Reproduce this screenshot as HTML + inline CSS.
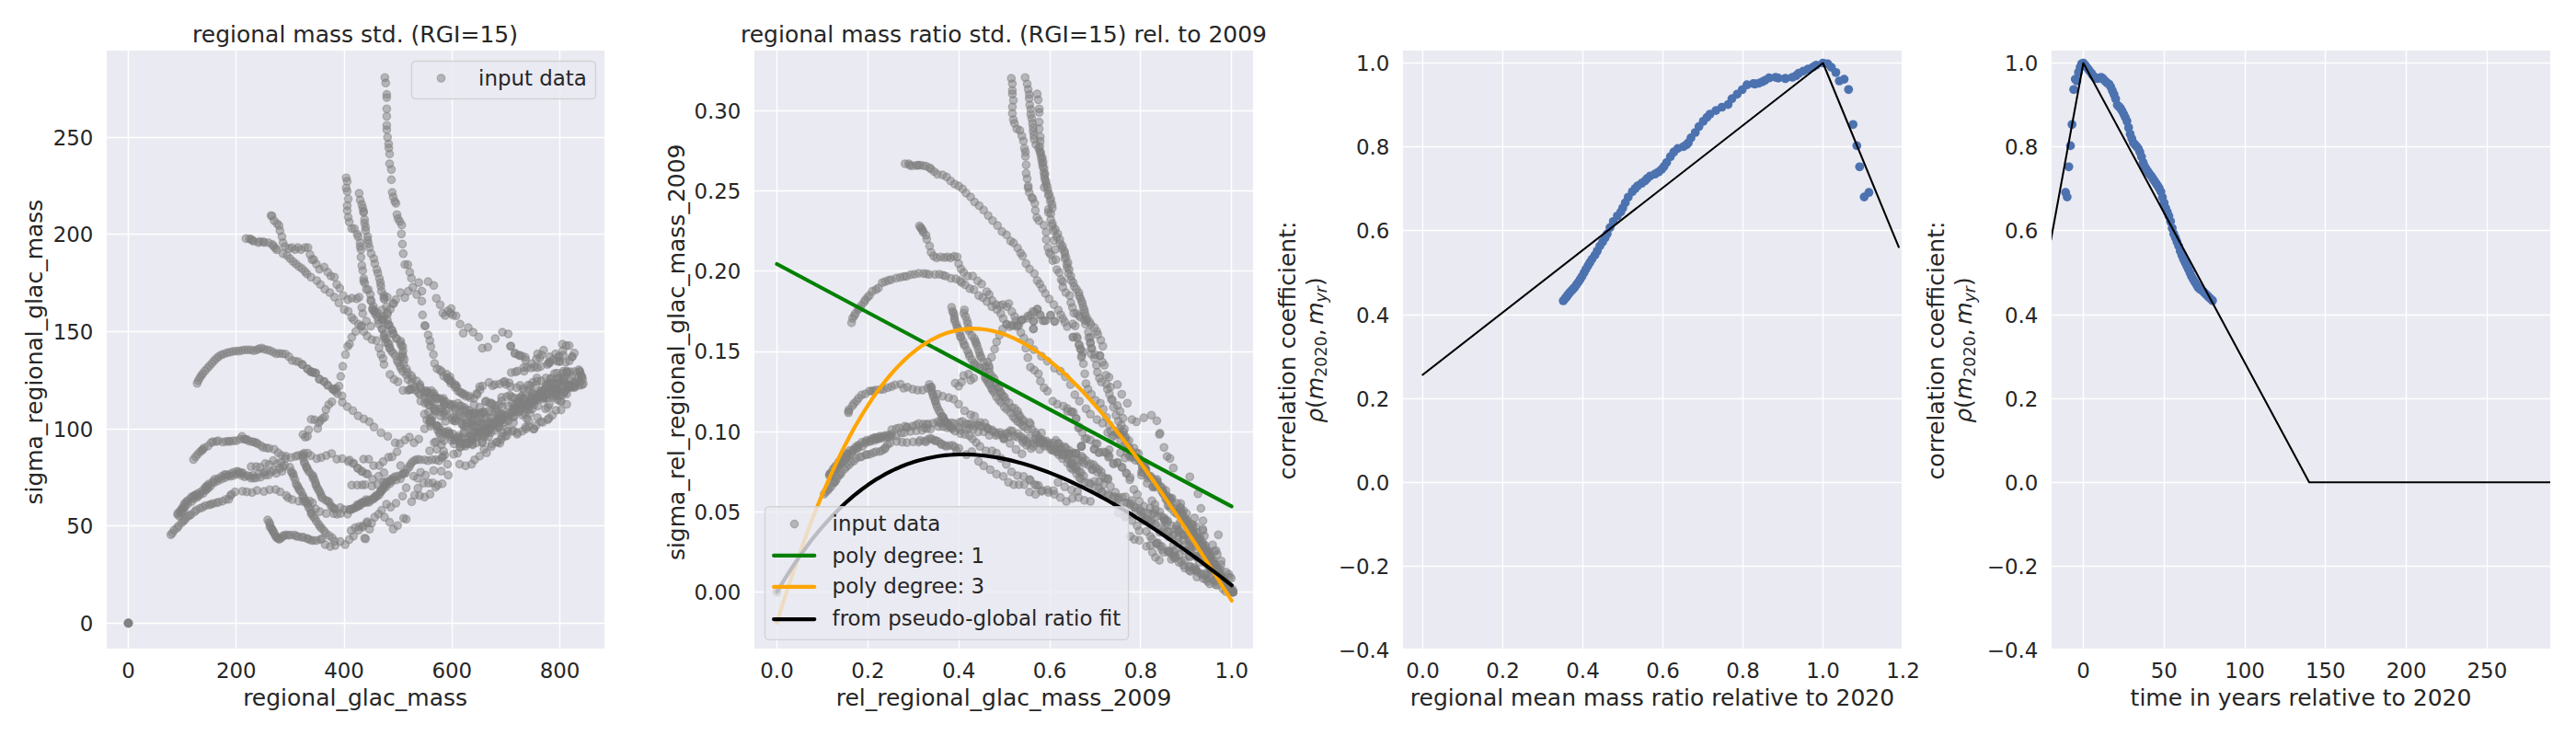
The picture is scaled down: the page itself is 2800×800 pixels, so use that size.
<!DOCTYPE html>
<html lang="en"><head><meta charset="utf-8"><title>regional mass std</title><style>html,body{margin:0;padding:0;background:#fff}body{width:2800px;height:800px;overflow:hidden}svg{display:block}</style></head><body>
<svg width="2800" height="800" viewBox="0 0 2800 800" font-family="'DejaVu Sans', 'Liberation Sans', sans-serif" fill="#262626">
<rect width="2800" height="800" fill="#fff"/>
<defs>
<clipPath id="c1"><rect x="116" y="55" width="541" height="650"/></clipPath>
<clipPath id="c2"><rect x="820" y="55" width="542" height="650"/></clipPath>
<clipPath id="c3"><rect x="1525" y="55" width="542" height="650"/></clipPath>
<clipPath id="c4"><rect x="2230" y="55" width="542" height="650"/></clipPath>
</defs>
<rect x="116" y="55" width="541" height="650" fill="#eaeaf2"/>
<path d="M139.5 55V705M256.5 55V705M374.5 55V705M491.5 55V705M608.5 55V705M116 677.5H657M116 571.5H657M116 466.5H657M116 360.5H657M116 254.5H657M116 149.5H657" stroke="#fff" stroke-width="1.39" fill="none"/>
<rect x="820" y="55" width="542" height="650" fill="#eaeaf2"/>
<path d="M844.5 55V705M943.5 55V705M1042.5 55V705M1141.5 55V705M1239.5 55V705M1338.5 55V705M820 643.5H1362M820 556.5H1362M820 469.5H1362M820 382.5H1362M820 294.5H1362M820 207.5H1362M820 120.5H1362" stroke="#fff" stroke-width="1.39" fill="none"/>
<rect x="1525" y="55" width="542" height="650" fill="#eaeaf2"/>
<path d="M1546.5 55V705M1633.5 55V705M1720.5 55V705M1807.5 55V705M1894.5 55V705M1981.5 55V705M1525 615.5H2067M1525 524.5H2067M1525 433.5H2067M1525 342.5H2067M1525 250.5H2067M1525 159.5H2067M1525 68.5H2067" stroke="#fff" stroke-width="1.39" fill="none"/>
<rect x="2230" y="55" width="542" height="650" fill="#eaeaf2"/>
<path d="M2264.5 55V705M2352.5 55V705M2440.5 55V705M2527.5 55V705M2615.5 55V705M2703.5 55V705M2230 615.5H2772M2230 524.5H2772M2230 433.5H2772M2230 342.5H2772M2230 250.5H2772M2230 159.5H2772M2230 68.5H2772" stroke="#fff" stroke-width="1.39" fill="none"/>
<g clip-path="url(#c1)" fill="#808080" fill-opacity="0.5" stroke="#808080" stroke-opacity="0.5" stroke-width="1.39"><circle cx="139.5" cy="677.4" r="4.17"/><circle cx="139.5" cy="677.4" r="4.17"/><circle cx="139.5" cy="677.4" r="4.17"/><circle cx="139.5" cy="677.4" r="4.17"/><circle cx="139.5" cy="677.4" r="4.17"/><circle cx="418.3" cy="84.3" r="4.17"/><circle cx="419.3" cy="90.2" r="4.17"/><circle cx="420.4" cy="102.6" r="4.17"/><circle cx="420.4" cy="106.1" r="4.17"/><circle cx="420.4" cy="118.3" r="4.17"/><circle cx="420.4" cy="126.5" r="4.17"/><circle cx="420.4" cy="136.3" r="4.17"/><circle cx="420.4" cy="141.1" r="4.17"/><circle cx="421.3" cy="149.3" r="4.17"/><circle cx="422.4" cy="156.5" r="4.17"/><circle cx="422.6" cy="160.9" r="4.17"/><circle cx="423.5" cy="167.4" r="4.17"/><circle cx="423.5" cy="178.0" r="4.17"/><circle cx="425.4" cy="184.3" r="4.17"/><circle cx="425.4" cy="195.4" r="4.17"/><circle cx="426.3" cy="209.1" r="4.17"/><circle cx="427.4" cy="214.1" r="4.17"/><circle cx="429.1" cy="218.9" r="4.17"/><circle cx="430.4" cy="221.1" r="4.17"/><circle cx="431.5" cy="233.3" r="4.17"/><circle cx="432.6" cy="237.6" r="4.17"/><circle cx="434.6" cy="240.9" r="4.17"/><circle cx="436.7" cy="244.6" r="4.17"/><circle cx="436.3" cy="254.3" r="4.17"/><circle cx="437.4" cy="265.4" r="4.17"/><circle cx="438.3" cy="275.7" r="4.17"/><circle cx="440.0" cy="287.6" r="4.17"/><circle cx="443.3" cy="287.6" r="4.17"/><circle cx="445.4" cy="295.9" r="4.17"/><circle cx="447.2" cy="302.4" r="4.17"/><circle cx="448.7" cy="312.2" r="4.17"/><circle cx="453.0" cy="320.2" r="4.17"/><circle cx="458.5" cy="327.4" r="4.17"/><circle cx="459.3" cy="342.4" r="4.17"/><circle cx="461.7" cy="353.9" r="4.17"/><circle cx="462.2" cy="354.3" r="4.17"/><circle cx="465.4" cy="364.1" r="4.17"/><circle cx="467.2" cy="370.2" r="4.17"/><circle cx="468.3" cy="376.7" r="4.17"/><circle cx="471.1" cy="385.4" r="4.17"/><circle cx="472.4" cy="395.0" r="4.17"/><circle cx="475.0" cy="400.9" r="4.17"/><circle cx="478.3" cy="402.2" r="4.17"/><circle cx="482.2" cy="408.7" r="4.17"/><circle cx="485.9" cy="411.3" r="4.17"/><circle cx="489.1" cy="409.6" r="4.17"/><circle cx="491.3" cy="415.0" r="4.17"/><circle cx="495.7" cy="418.9" r="4.17"/><circle cx="496.7" cy="421.1" r="4.17"/><circle cx="500.4" cy="426.5" r="4.17"/><circle cx="503.3" cy="428.7" r="4.17"/><circle cx="506.5" cy="430.9" r="4.17"/><circle cx="510.9" cy="432.4" r="4.17"/><circle cx="515.2" cy="433.0" r="4.17"/><circle cx="376.3" cy="193.3" r="4.17"/><circle cx="377.4" cy="197.2" r="4.17"/><circle cx="376.3" cy="204.3" r="4.17"/><circle cx="377.4" cy="208.0" r="4.17"/><circle cx="378.5" cy="216.3" r="4.17"/><circle cx="377.4" cy="223.5" r="4.17"/><circle cx="377.4" cy="229.1" r="4.17"/><circle cx="378.5" cy="236.1" r="4.17"/><circle cx="379.6" cy="241.3" r="4.17"/><circle cx="382.4" cy="248.5" r="4.17"/><circle cx="385.2" cy="248.5" r="4.17"/><circle cx="388.3" cy="254.6" r="4.17"/><circle cx="389.3" cy="257.2" r="4.17"/><circle cx="391.5" cy="263.7" r="4.17"/><circle cx="391.5" cy="268.0" r="4.17"/><circle cx="392.4" cy="271.3" r="4.17"/><circle cx="392.4" cy="279.6" r="4.17"/><circle cx="393.3" cy="288.7" r="4.17"/><circle cx="394.3" cy="294.1" r="4.17"/><circle cx="395.4" cy="302.8" r="4.17"/><circle cx="395.4" cy="305.7" r="4.17"/><circle cx="396.5" cy="307.8" r="4.17"/><circle cx="398.3" cy="314.8" r="4.17"/><circle cx="400.4" cy="314.8" r="4.17"/><circle cx="402.6" cy="320.2" r="4.17"/><circle cx="403.5" cy="327.4" r="4.17"/><circle cx="404.8" cy="335.5" r="4.17"/><circle cx="407.0" cy="337.7" r="4.17"/><circle cx="408.0" cy="341.5" r="4.17"/><circle cx="415.1" cy="346.4" r="4.17"/><circle cx="415.1" cy="357.3" r="4.17"/><circle cx="417.3" cy="365.4" r="4.17"/><circle cx="418.9" cy="372.5" r="4.17"/><circle cx="423.3" cy="378.5" r="4.17"/><circle cx="427.6" cy="383.9" r="4.17"/><circle cx="435.2" cy="388.3" r="4.17"/><circle cx="390.4" cy="210.2" r="4.17"/><circle cx="391.5" cy="217.4" r="4.17"/><circle cx="393.3" cy="222.2" r="4.17"/><circle cx="394.3" cy="226.1" r="4.17"/><circle cx="395.2" cy="229.8" r="4.17"/><circle cx="395.2" cy="231.1" r="4.17"/><circle cx="396.3" cy="238.7" r="4.17"/><circle cx="396.3" cy="242.6" r="4.17"/><circle cx="397.4" cy="247.0" r="4.17"/><circle cx="397.4" cy="250.7" r="4.17"/><circle cx="399.6" cy="257.2" r="4.17"/><circle cx="399.6" cy="260.9" r="4.17"/><circle cx="400.4" cy="264.8" r="4.17"/><circle cx="401.5" cy="269.1" r="4.17"/><circle cx="403.5" cy="275.7" r="4.17"/><circle cx="406.3" cy="281.1" r="4.17"/><circle cx="407.4" cy="286.5" r="4.17"/><circle cx="409.6" cy="293.0" r="4.17"/><circle cx="410.7" cy="297.0" r="4.17"/><circle cx="412.4" cy="302.8" r="4.17"/><circle cx="413.5" cy="307.2" r="4.17"/><circle cx="414.0" cy="311.1" r="4.17"/><circle cx="414.6" cy="316.5" r="4.17"/><circle cx="417.3" cy="320.9" r="4.17"/><circle cx="417.8" cy="325.2" r="4.17"/><circle cx="420.0" cy="333.4" r="4.17"/><circle cx="421.1" cy="341.5" r="4.17"/><circle cx="421.1" cy="348.0" r="4.17"/><circle cx="423.3" cy="353.5" r="4.17"/><circle cx="426.0" cy="358.9" r="4.17"/><circle cx="427.6" cy="362.7" r="4.17"/><circle cx="431.4" cy="368.2" r="4.17"/><circle cx="435.2" cy="373.0" r="4.17"/><circle cx="436.3" cy="375.8" r="4.17"/><circle cx="437.4" cy="385.0" r="4.17"/><circle cx="267.3" cy="259.4" r="4.17"/><circle cx="271.2" cy="259.7" r="4.17"/><circle cx="272.9" cy="260.1" r="4.17"/><circle cx="274.2" cy="261.4" r="4.17"/><circle cx="275.9" cy="262.2" r="4.17"/><circle cx="280.9" cy="263.7" r="4.17"/><circle cx="282.4" cy="262.5" r="4.17"/><circle cx="286.3" cy="262.8" r="4.17"/><circle cx="287.1" cy="263.6" r="4.17"/><circle cx="291.8" cy="263.9" r="4.17"/><circle cx="295.9" cy="265.6" r="4.17"/><circle cx="297.3" cy="267.5" r="4.17"/><circle cx="299.4" cy="269.9" r="4.17"/><circle cx="300.9" cy="271.5" r="4.17"/><circle cx="307.6" cy="275.7" r="4.17"/><circle cx="312.0" cy="277.8" r="4.17"/><circle cx="315.2" cy="281.1" r="4.17"/><circle cx="318.5" cy="284.3" r="4.17"/><circle cx="321.7" cy="287.0" r="4.17"/><circle cx="325.0" cy="289.8" r="4.17"/><circle cx="328.3" cy="292.0" r="4.17"/><circle cx="331.5" cy="295.2" r="4.17"/><circle cx="333.7" cy="297.8" r="4.17"/><circle cx="338.0" cy="301.3" r="4.17"/><circle cx="344.3" cy="305.0" r="4.17"/><circle cx="348.3" cy="309.3" r="4.17"/><circle cx="353.0" cy="314.3" r="4.17"/><circle cx="358.5" cy="318.0" r="4.17"/><circle cx="363.5" cy="323.0" r="4.17"/><circle cx="368.3" cy="329.3" r="4.17"/><circle cx="374.1" cy="336.5" r="4.17"/><circle cx="378.5" cy="338.3" r="4.17"/><circle cx="382.4" cy="345.2" r="4.17"/><circle cx="384.6" cy="347.8" r="4.17"/><circle cx="389.6" cy="352.4" r="4.17"/><circle cx="392.2" cy="354.6" r="4.17"/><circle cx="395.4" cy="360.4" r="4.17"/><circle cx="399.1" cy="365.2" r="4.17"/><circle cx="404.1" cy="369.1" r="4.17"/><circle cx="409.1" cy="370.2" r="4.17"/><circle cx="412.0" cy="378.3" r="4.17"/><circle cx="414.1" cy="385.2" r="4.17"/><circle cx="416.3" cy="389.6" r="4.17"/><circle cx="417.4" cy="396.1" r="4.17"/><circle cx="423.9" cy="407.0" r="4.17"/><circle cx="428.3" cy="412.4" r="4.17"/><circle cx="432.6" cy="415.0" r="4.17"/><circle cx="438.0" cy="424.3" r="4.17"/><circle cx="443.5" cy="424.3" r="4.17"/><circle cx="294.6" cy="234.3" r="4.17"/><circle cx="295.7" cy="234.8" r="4.17"/><circle cx="297.8" cy="239.8" r="4.17"/><circle cx="301.1" cy="243.0" r="4.17"/><circle cx="303.3" cy="245.2" r="4.17"/><circle cx="304.3" cy="250.7" r="4.17"/><circle cx="306.5" cy="257.2" r="4.17"/><circle cx="307.6" cy="263.7" r="4.17"/><circle cx="309.8" cy="268.0" r="4.17"/><circle cx="314.1" cy="270.2" r="4.17"/><circle cx="317.4" cy="269.1" r="4.17"/><circle cx="320.7" cy="271.3" r="4.17"/><circle cx="323.9" cy="269.1" r="4.17"/><circle cx="327.2" cy="271.3" r="4.17"/><circle cx="331.5" cy="269.1" r="4.17"/><circle cx="334.8" cy="269.1" r="4.17"/><circle cx="337.0" cy="276.7" r="4.17"/><circle cx="339.1" cy="282.2" r="4.17"/><circle cx="341.1" cy="282.2" r="4.17"/><circle cx="343.9" cy="287.0" r="4.17"/><circle cx="347.2" cy="292.6" r="4.17"/><circle cx="352.4" cy="290.4" r="4.17"/><circle cx="356.3" cy="295.9" r="4.17"/><circle cx="359.6" cy="300.0" r="4.17"/><circle cx="363.5" cy="301.3" r="4.17"/><circle cx="366.1" cy="309.3" r="4.17"/><circle cx="369.3" cy="313.3" r="4.17"/><circle cx="373.0" cy="321.3" r="4.17"/><circle cx="378.0" cy="325.7" r="4.17"/><circle cx="382.4" cy="324.1" r="4.17"/><circle cx="387.8" cy="324.8" r="4.17"/><circle cx="390.4" cy="323.0" r="4.17"/><circle cx="428.0" cy="329.6" r="4.17"/><circle cx="430.2" cy="325.7" r="4.17"/><circle cx="435.2" cy="318.0" r="4.17"/><circle cx="440.0" cy="323.5" r="4.17"/><circle cx="443.9" cy="316.5" r="4.17"/><circle cx="455.2" cy="307.2" r="4.17"/><circle cx="458.5" cy="316.5" r="4.17"/><circle cx="465.4" cy="306.1" r="4.17"/><circle cx="471.5" cy="310.4" r="4.17"/><circle cx="474.3" cy="324.3" r="4.17"/><circle cx="478.5" cy="331.3" r="4.17"/><circle cx="481.3" cy="340.4" r="4.17"/><circle cx="483.9" cy="343.0" r="4.17"/><circle cx="486.7" cy="338.0" r="4.17"/><circle cx="490.4" cy="335.4" r="4.17"/><circle cx="489.6" cy="340.4" r="4.17"/><circle cx="492.2" cy="342.6" r="4.17"/><circle cx="495.7" cy="343.3" r="4.17"/><circle cx="500.2" cy="352.4" r="4.17"/><circle cx="503.5" cy="362.2" r="4.17"/><circle cx="509.1" cy="356.1" r="4.17"/><circle cx="514.3" cy="361.1" r="4.17"/><circle cx="520.4" cy="366.3" r="4.17"/><circle cx="524.3" cy="378.5" r="4.17"/><circle cx="530.2" cy="377.4" r="4.17"/><circle cx="538.3" cy="368.0" r="4.17"/><circle cx="546.1" cy="361.1" r="4.17"/><circle cx="552.4" cy="363.0" r="4.17"/><circle cx="555.2" cy="376.1" r="4.17"/><circle cx="559.6" cy="384.3" r="4.17"/><circle cx="329.3" cy="472.4" r="4.17"/><circle cx="331.8" cy="475.2" r="4.17"/><circle cx="334.2" cy="474.3" r="4.17"/><circle cx="335.5" cy="467.3" r="4.17"/><circle cx="338.3" cy="455.9" r="4.17"/><circle cx="342.1" cy="456.4" r="4.17"/><circle cx="345.3" cy="465.9" r="4.17"/><circle cx="346.5" cy="459.7" r="4.17"/><circle cx="348.1" cy="457.2" r="4.17"/><circle cx="350.9" cy="454.8" r="4.17"/><circle cx="353.0" cy="453.2" r="4.17"/><circle cx="354.3" cy="445.3" r="4.17"/><circle cx="357.4" cy="439.8" r="4.17"/><circle cx="360.7" cy="436.8" r="4.17"/><circle cx="363.6" cy="423.5" r="4.17"/><circle cx="365.2" cy="422.2" r="4.17"/><circle cx="368.5" cy="419.7" r="4.17"/><circle cx="370.4" cy="409.1" r="4.17"/><circle cx="372.6" cy="398.2" r="4.17"/><circle cx="375.5" cy="385.5" r="4.17"/><circle cx="377.9" cy="376.5" r="4.17"/><circle cx="379.9" cy="374.1" r="4.17"/><circle cx="382.4" cy="366.5" r="4.17"/><circle cx="386.7" cy="360.4" r="4.17"/><circle cx="393.3" cy="354.3" r="4.17"/><circle cx="394.3" cy="340.9" r="4.17"/><circle cx="393.3" cy="334.3" r="4.17"/><circle cx="214.3" cy="416.7" r="4.17"/><circle cx="215.5" cy="413.8" r="4.17"/><circle cx="217.1" cy="410.9" r="4.17"/><circle cx="218.8" cy="408.4" r="4.17"/><circle cx="220.4" cy="406.1" r="4.17"/><circle cx="222.8" cy="403.2" r="4.17"/><circle cx="225.3" cy="400.4" r="4.17"/><circle cx="227.7" cy="397.8" r="4.17"/><circle cx="230.2" cy="395.1" r="4.17"/><circle cx="232.6" cy="392.3" r="4.17"/><circle cx="235.1" cy="389.8" r="4.17"/><circle cx="237.5" cy="387.7" r="4.17"/><circle cx="240.4" cy="385.8" r="4.17"/><circle cx="243.2" cy="384.8" r="4.17"/><circle cx="246.5" cy="383.6" r="4.17"/><circle cx="249.7" cy="382.8" r="4.17"/><circle cx="253.0" cy="382.0" r="4.17"/><circle cx="256.3" cy="381.5" r="4.17"/><circle cx="259.5" cy="381.7" r="4.17"/><circle cx="262.8" cy="380.9" r="4.17"/><circle cx="266.0" cy="380.4" r="4.17"/><circle cx="269.3" cy="380.4" r="4.17"/><circle cx="272.6" cy="380.4" r="4.17"/><circle cx="275.8" cy="381.2" r="4.17"/><circle cx="279.1" cy="380.4" r="4.17"/><circle cx="281.5" cy="379.2" r="4.17"/><circle cx="284.3" cy="378.3" r="4.17"/><circle cx="287.2" cy="379.6" r="4.17"/><circle cx="290.5" cy="380.4" r="4.17"/><circle cx="293.8" cy="381.2" r="4.17"/><circle cx="297.0" cy="382.8" r="4.17"/><circle cx="300.3" cy="384.5" r="4.17"/><circle cx="303.5" cy="384.1" r="4.17"/><circle cx="306.8" cy="384.5" r="4.17"/><circle cx="310.1" cy="384.8" r="4.17"/><circle cx="314.1" cy="387.7" r="4.17"/><circle cx="317.4" cy="391.8" r="4.17"/><circle cx="321.5" cy="392.6" r="4.17"/><circle cx="324.7" cy="393.4" r="4.17"/><circle cx="328.8" cy="396.2" r="4.17"/><circle cx="334.0" cy="400.8" r="4.17"/><circle cx="337.8" cy="404.0" r="4.17"/><circle cx="340.2" cy="404.8" r="4.17"/><circle cx="343.2" cy="405.3" r="4.17"/><circle cx="347.1" cy="412.2" r="4.17"/><circle cx="352.4" cy="414.6" r="4.17"/><circle cx="356.2" cy="418.7" r="4.17"/><circle cx="361.4" cy="422.8" r="4.17"/><circle cx="328.5" cy="396.4" r="4.17"/><circle cx="334.2" cy="401.0" r="4.17"/><circle cx="337.8" cy="403.9" r="4.17"/><circle cx="339.9" cy="404.6" r="4.17"/><circle cx="342.7" cy="405.5" r="4.17"/><circle cx="347.3" cy="412.1" r="4.17"/><circle cx="352.2" cy="414.8" r="4.17"/><circle cx="356.3" cy="418.9" r="4.17"/><circle cx="362.0" cy="423.0" r="4.17"/><circle cx="364.4" cy="425.4" r="4.17"/><circle cx="366.8" cy="427.9" r="4.17"/><circle cx="371.7" cy="430.3" r="4.17"/><circle cx="372.1" cy="437.2" r="4.17"/><circle cx="377.4" cy="442.1" r="4.17"/><circle cx="383.5" cy="446.3" r="4.17"/><circle cx="389.3" cy="452.0" r="4.17"/><circle cx="395.4" cy="455.3" r="4.17"/><circle cx="401.4" cy="458.4" r="4.17"/><circle cx="406.5" cy="464.2" r="4.17"/><circle cx="414.1" cy="470.3" r="4.17"/><circle cx="421.5" cy="474.3" r="4.17"/><circle cx="429.6" cy="481.4" r="4.17"/><circle cx="434.5" cy="482.2" r="4.17"/><circle cx="440.2" cy="478.4" r="4.17"/><circle cx="445.1" cy="475.2" r="4.17"/><circle cx="450.0" cy="481.4" r="4.17"/><circle cx="455.2" cy="477.3" r="4.17"/><circle cx="417.2" cy="323.9" r="4.17"/><circle cx="420.9" cy="323.0" r="4.17"/><circle cx="405.2" cy="337.0" r="4.17"/><circle cx="410.0" cy="339.8" r="4.17"/><circle cx="415.0" cy="337.0" r="4.17"/><circle cx="415.7" cy="347.4" r="4.17"/><circle cx="398.3" cy="349.1" r="4.17"/><circle cx="403.0" cy="354.6" r="4.17"/><circle cx="563.9" cy="386.1" r="4.17"/><circle cx="567.2" cy="387.0" r="4.17"/><circle cx="570.9" cy="388.3" r="4.17"/><circle cx="210.3" cy="499.5" r="4.17"/><circle cx="212.6" cy="496.5" r="4.17"/><circle cx="215.0" cy="493.8" r="4.17"/><circle cx="217.4" cy="491.1" r="4.17"/><circle cx="219.5" cy="489.6" r="4.17"/><circle cx="220.4" cy="488.6" r="4.17"/><circle cx="221.9" cy="486.8" r="4.17"/><circle cx="226.1" cy="484.8" r="4.17"/><circle cx="229.3" cy="481.4" r="4.17"/><circle cx="231.4" cy="480.1" r="4.17"/><circle cx="235.2" cy="480.0" r="4.17"/><circle cx="237.1" cy="479.0" r="4.17"/><circle cx="242.2" cy="480.5" r="4.17"/><circle cx="245.8" cy="479.9" r="4.17"/><circle cx="248.4" cy="479.6" r="4.17"/><circle cx="250.2" cy="479.9" r="4.17"/><circle cx="253.6" cy="479.2" r="4.17"/><circle cx="257.0" cy="479.1" r="4.17"/><circle cx="261.0" cy="477.4" r="4.17"/><circle cx="263.0" cy="474.4" r="4.17"/><circle cx="265.5" cy="477.3" r="4.17"/><circle cx="266.9" cy="477.7" r="4.17"/><circle cx="268.9" cy="477.9" r="4.17"/><circle cx="270.8" cy="479.6" r="4.17"/><circle cx="274.3" cy="480.1" r="4.17"/><circle cx="275.9" cy="480.5" r="4.17"/><circle cx="278.3" cy="481.2" r="4.17"/><circle cx="279.9" cy="482.3" r="4.17"/><circle cx="283.6" cy="484.4" r="4.17"/><circle cx="285.9" cy="486.4" r="4.17"/><circle cx="289.5" cy="486.9" r="4.17"/><circle cx="292.3" cy="487.3" r="4.17"/><circle cx="298.1" cy="488.4" r="4.17"/><circle cx="302.3" cy="492.1" r="4.17"/><circle cx="306.0" cy="495.0" r="4.17"/><circle cx="310.6" cy="495.9" r="4.17"/><circle cx="316.0" cy="497.3" r="4.17"/><circle cx="321.3" cy="496.1" r="4.17"/><circle cx="324.0" cy="495.0" r="4.17"/><circle cx="330.6" cy="492.6" r="4.17"/><circle cx="334.5" cy="492.7" r="4.17"/><circle cx="337.8" cy="495.3" r="4.17"/><circle cx="344.3" cy="498.5" r="4.17"/><circle cx="349.1" cy="497.4" r="4.17"/><circle cx="354.6" cy="495.2" r="4.17"/><circle cx="360.4" cy="493.0" r="4.17"/><circle cx="366.1" cy="499.1" r="4.17"/><circle cx="372.0" cy="498.5" r="4.17"/><circle cx="378.5" cy="501.7" r="4.17"/><circle cx="383.9" cy="503.9" r="4.17"/><circle cx="389.3" cy="509.3" r="4.17"/><circle cx="393.7" cy="512.6" r="4.17"/><circle cx="398.0" cy="514.8" r="4.17"/><circle cx="273.0" cy="507.2" r="4.17"/><circle cx="278.5" cy="507.2" r="4.17"/><circle cx="282.8" cy="507.8" r="4.17"/><circle cx="288.3" cy="503.9" r="4.17"/><circle cx="292.6" cy="505.0" r="4.17"/><circle cx="297.0" cy="500.7" r="4.17"/><circle cx="301.3" cy="503.9" r="4.17"/><circle cx="305.7" cy="502.8" r="4.17"/><circle cx="310.0" cy="498.5" r="4.17"/><circle cx="193.0" cy="559.4" r="4.17"/><circle cx="193.5" cy="557.8" r="4.17"/><circle cx="195.5" cy="556.0" r="4.17"/><circle cx="196.7" cy="554.6" r="4.17"/><circle cx="197.7" cy="552.6" r="4.17"/><circle cx="199.7" cy="549.8" r="4.17"/><circle cx="200.8" cy="547.3" r="4.17"/><circle cx="202.6" cy="545.4" r="4.17"/><circle cx="204.1" cy="544.1" r="4.17"/><circle cx="207.5" cy="541.9" r="4.17"/><circle cx="208.2" cy="540.1" r="4.17"/><circle cx="210.8" cy="538.9" r="4.17"/><circle cx="211.8" cy="538.5" r="4.17"/><circle cx="213.9" cy="537.0" r="4.17"/><circle cx="216.7" cy="535.5" r="4.17"/><circle cx="220.2" cy="533.2" r="4.17"/><circle cx="222.9" cy="530.3" r="4.17"/><circle cx="224.1" cy="528.8" r="4.17"/><circle cx="225.9" cy="527.9" r="4.17"/><circle cx="227.0" cy="526.0" r="4.17"/><circle cx="231.5" cy="523.3" r="4.17"/><circle cx="233.4" cy="520.9" r="4.17"/><circle cx="237.4" cy="520.2" r="4.17"/><circle cx="240.9" cy="517.9" r="4.17"/><circle cx="244.1" cy="515.8" r="4.17"/><circle cx="245.8" cy="516.0" r="4.17"/><circle cx="250.1" cy="515.3" r="4.17"/><circle cx="253.2" cy="513.7" r="4.17"/><circle cx="257.2" cy="512.4" r="4.17"/><circle cx="259.1" cy="512.6" r="4.17"/><circle cx="194.9" cy="561.0" r="4.17"/><circle cx="197.2" cy="557.7" r="4.17"/><circle cx="198.7" cy="556.0" r="4.17"/><circle cx="199.9" cy="552.8" r="4.17"/><circle cx="201.2" cy="551.1" r="4.17"/><circle cx="204.0" cy="547.8" r="4.17"/><circle cx="208.0" cy="545.4" r="4.17"/><circle cx="210.7" cy="542.2" r="4.17"/><circle cx="214.2" cy="540.5" r="4.17"/><circle cx="215.5" cy="539.0" r="4.17"/><circle cx="217.5" cy="537.8" r="4.17"/><circle cx="220.8" cy="536.2" r="4.17"/><circle cx="223.5" cy="533.0" r="4.17"/><circle cx="224.7" cy="531.7" r="4.17"/><circle cx="226.8" cy="530.4" r="4.17"/><circle cx="229.3" cy="527.8" r="4.17"/><circle cx="233.0" cy="524.5" r="4.17"/><circle cx="236.6" cy="522.7" r="4.17"/><circle cx="241.0" cy="520.9" r="4.17"/><circle cx="244.8" cy="519.2" r="4.17"/><circle cx="248.3" cy="517.1" r="4.17"/><circle cx="250.7" cy="517.7" r="4.17"/><circle cx="254.0" cy="516.9" r="4.17"/><circle cx="257.2" cy="515.3" r="4.17"/><circle cx="260.7" cy="514.1" r="4.17"/><circle cx="262.6" cy="514.3" r="4.17"/><circle cx="263.7" cy="513.9" r="4.17"/><circle cx="268.2" cy="516.8" r="4.17"/><circle cx="271.1" cy="517.6" r="4.17"/><circle cx="275.1" cy="516.7" r="4.17"/><circle cx="280.7" cy="515.6" r="4.17"/><circle cx="286.6" cy="513.7" r="4.17"/><circle cx="288.8" cy="513.1" r="4.17"/><circle cx="294.8" cy="512.9" r="4.17"/><circle cx="297.7" cy="511.3" r="4.17"/><circle cx="303.6" cy="509.5" r="4.17"/><circle cx="307.6" cy="507.9" r="4.17"/><circle cx="309.4" cy="505.8" r="4.17"/><circle cx="315.1" cy="507.9" r="4.17"/><circle cx="262.2" cy="516.9" r="4.17"/><circle cx="265.8" cy="518.3" r="4.17"/><circle cx="272.7" cy="519.7" r="4.17"/><circle cx="275.9" cy="519.8" r="4.17"/><circle cx="278.7" cy="519.4" r="4.17"/><circle cx="283.3" cy="518.6" r="4.17"/><circle cx="288.5" cy="516.5" r="4.17"/><circle cx="292.1" cy="516.1" r="4.17"/><circle cx="300.3" cy="514.5" r="4.17"/><circle cx="306.6" cy="512.4" r="4.17"/><circle cx="316.6" cy="512.4" r="4.17"/><circle cx="317.3" cy="514.1" r="4.17"/><circle cx="318.8" cy="515.1" r="4.17"/><circle cx="319.2" cy="518.2" r="4.17"/><circle cx="320.8" cy="521.6" r="4.17"/><circle cx="321.8" cy="526.1" r="4.17"/><circle cx="323.3" cy="528.0" r="4.17"/><circle cx="324.4" cy="530.2" r="4.17"/><circle cx="325.4" cy="532.5" r="4.17"/><circle cx="327.1" cy="534.3" r="4.17"/><circle cx="329.1" cy="538.5" r="4.17"/><circle cx="329.5" cy="540.5" r="4.17"/><circle cx="331.1" cy="542.6" r="4.17"/><circle cx="332.3" cy="545.5" r="4.17"/><circle cx="333.9" cy="546.7" r="4.17"/><circle cx="334.5" cy="548.4" r="4.17"/><circle cx="335.4" cy="551.5" r="4.17"/><circle cx="337.5" cy="554.3" r="4.17"/><circle cx="338.4" cy="557.3" r="4.17"/><circle cx="338.4" cy="558.7" r="4.17"/><circle cx="340.6" cy="561.8" r="4.17"/><circle cx="342.5" cy="563.5" r="4.17"/><circle cx="343.8" cy="566.6" r="4.17"/><circle cx="346.4" cy="569.9" r="4.17"/><circle cx="347.7" cy="572.3" r="4.17"/><circle cx="349.7" cy="574.3" r="4.17"/><circle cx="352.3" cy="577.1" r="4.17"/><circle cx="354.0" cy="579.6" r="4.17"/><circle cx="357.8" cy="582.2" r="4.17"/><circle cx="361.1" cy="584.6" r="4.17"/><circle cx="363.8" cy="588.2" r="4.17"/><circle cx="328.6" cy="494.0" r="4.17"/><circle cx="329.5" cy="495.4" r="4.17"/><circle cx="329.3" cy="497.7" r="4.17"/><circle cx="330.7" cy="501.9" r="4.17"/><circle cx="331.1" cy="503.8" r="4.17"/><circle cx="333.0" cy="507.2" r="4.17"/><circle cx="333.5" cy="508.6" r="4.17"/><circle cx="334.6" cy="510.7" r="4.17"/><circle cx="336.3" cy="513.3" r="4.17"/><circle cx="339.0" cy="516.1" r="4.17"/><circle cx="340.5" cy="517.6" r="4.17"/><circle cx="340.3" cy="519.9" r="4.17"/><circle cx="341.9" cy="521.7" r="4.17"/><circle cx="343.1" cy="525.3" r="4.17"/><circle cx="343.3" cy="527.1" r="4.17"/><circle cx="344.6" cy="529.7" r="4.17"/><circle cx="346.0" cy="532.0" r="4.17"/><circle cx="347.2" cy="534.3" r="4.17"/><circle cx="348.7" cy="536.9" r="4.17"/><circle cx="349.3" cy="539.7" r="4.17"/><circle cx="350.5" cy="541.5" r="4.17"/><circle cx="354.1" cy="543.7" r="4.17"/><circle cx="356.5" cy="544.8" r="4.17"/><circle cx="357.7" cy="545.9" r="4.17"/><circle cx="359.6" cy="549.6" r="4.17"/><circle cx="361.1" cy="551.4" r="4.17"/><circle cx="362.9" cy="552.3" r="4.17"/><circle cx="363.8" cy="553.5" r="4.17"/><circle cx="369.8" cy="551.7" r="4.17"/><circle cx="374.1" cy="553.9" r="4.17"/><circle cx="379.6" cy="553.9" r="4.17"/><circle cx="383.9" cy="552.8" r="4.17"/><circle cx="388.3" cy="548.5" r="4.17"/><circle cx="393.7" cy="546.3" r="4.17"/><circle cx="398.0" cy="543.0" r="4.17"/><circle cx="185.7" cy="581.3" r="4.17"/><circle cx="187.4" cy="579.4" r="4.17"/><circle cx="189.3" cy="576.2" r="4.17"/><circle cx="192.5" cy="574.0" r="4.17"/><circle cx="194.1" cy="571.8" r="4.17"/><circle cx="197.3" cy="568.4" r="4.17"/><circle cx="199.3" cy="566.4" r="4.17"/><circle cx="200.9" cy="565.1" r="4.17"/><circle cx="203.8" cy="561.8" r="4.17"/><circle cx="205.9" cy="560.2" r="4.17"/><circle cx="207.7" cy="559.4" r="4.17"/><circle cx="211.6" cy="556.2" r="4.17"/><circle cx="213.6" cy="554.3" r="4.17"/><circle cx="217.5" cy="552.5" r="4.17"/><circle cx="220.4" cy="551.4" r="4.17"/><circle cx="223.2" cy="549.6" r="4.17"/><circle cx="227.3" cy="548.9" r="4.17"/><circle cx="229.1" cy="548.4" r="4.17"/><circle cx="231.6" cy="547.3" r="4.17"/><circle cx="235.5" cy="546.5" r="4.17"/><circle cx="237.4" cy="545.9" r="4.17"/><circle cx="241.7" cy="544.8" r="4.17"/><circle cx="245.5" cy="542.8" r="4.17"/><circle cx="248.7" cy="542.7" r="4.17"/><circle cx="250.5" cy="538.6" r="4.17"/><circle cx="251.7" cy="537.3" r="4.17"/><circle cx="255.5" cy="534.7" r="4.17"/><circle cx="263.6" cy="534.0" r="4.17"/><circle cx="268.3" cy="534.6" r="4.17"/><circle cx="274.0" cy="535.3" r="4.17"/><circle cx="279.4" cy="533.1" r="4.17"/><circle cx="286.9" cy="534.2" r="4.17"/><circle cx="293.1" cy="532.3" r="4.17"/><circle cx="299.6" cy="532.1" r="4.17"/><circle cx="304.6" cy="534.6" r="4.17"/><circle cx="311.2" cy="538.7" r="4.17"/><circle cx="313.2" cy="541.1" r="4.17"/><circle cx="317.6" cy="543.0" r="4.17"/><circle cx="324.6" cy="544.8" r="4.17"/><circle cx="329.9" cy="545.2" r="4.17"/><circle cx="336.6" cy="544.7" r="4.17"/><circle cx="339.6" cy="546.5" r="4.17"/><circle cx="343.1" cy="553.1" r="4.17"/><circle cx="347.7" cy="556.1" r="4.17"/><circle cx="354.6" cy="558.2" r="4.17"/><circle cx="362.7" cy="558.2" r="4.17"/><circle cx="366.3" cy="559.0" r="4.17"/><circle cx="370.4" cy="558.1" r="4.17"/><circle cx="377.8" cy="558.9" r="4.17"/><circle cx="290.9" cy="565.1" r="4.17"/><circle cx="292.6" cy="567.8" r="4.17"/><circle cx="293.4" cy="569.9" r="4.17"/><circle cx="293.4" cy="572.8" r="4.17"/><circle cx="295.1" cy="574.1" r="4.17"/><circle cx="295.8" cy="575.6" r="4.17"/><circle cx="296.5" cy="577.2" r="4.17"/><circle cx="297.4" cy="578.2" r="4.17"/><circle cx="298.4" cy="580.6" r="4.17"/><circle cx="299.6" cy="582.9" r="4.17"/><circle cx="301.0" cy="583.7" r="4.17"/><circle cx="301.1" cy="584.9" r="4.17"/><circle cx="303.3" cy="585.9" r="4.17"/><circle cx="303.4" cy="586.1" r="4.17"/><circle cx="305.9" cy="584.9" r="4.17"/><circle cx="307.8" cy="582.6" r="4.17"/><circle cx="308.6" cy="582.1" r="4.17"/><circle cx="311.3" cy="581.3" r="4.17"/><circle cx="313.5" cy="581.9" r="4.17"/><circle cx="316.1" cy="581.6" r="4.17"/><circle cx="320.3" cy="581.6" r="4.17"/><circle cx="321.9" cy="582.8" r="4.17"/><circle cx="324.5" cy="583.4" r="4.17"/><circle cx="328.4" cy="584.1" r="4.17"/><circle cx="329.6" cy="583.8" r="4.17"/><circle cx="333.8" cy="585.3" r="4.17"/><circle cx="335.1" cy="585.9" r="4.17"/><circle cx="338.0" cy="587.2" r="4.17"/><circle cx="340.5" cy="587.6" r="4.17"/><circle cx="344.0" cy="587.5" r="4.17"/><circle cx="348.2" cy="586.4" r="4.17"/><circle cx="349.7" cy="585.9" r="4.17"/><circle cx="353.5" cy="592.0" r="4.17"/><circle cx="358.9" cy="594.1" r="4.17"/><circle cx="364.3" cy="593.0" r="4.17"/><circle cx="369.8" cy="588.7" r="4.17"/><circle cx="375.2" cy="592.0" r="4.17"/><circle cx="379.6" cy="586.5" r="4.17"/><circle cx="381.7" cy="576.7" r="4.17"/><circle cx="386.1" cy="573.5" r="4.17"/><circle cx="390.4" cy="572.4" r="4.17"/><circle cx="394.8" cy="571.3" r="4.17"/><circle cx="399.1" cy="567.0" r="4.17"/><circle cx="461.5" cy="466.1" r="4.17"/><circle cx="468.0" cy="463.3" r="4.17"/><circle cx="473.9" cy="480.2" r="4.17"/><circle cx="475.7" cy="467.6" r="4.17"/><circle cx="467.0" cy="490.0" r="4.17"/><circle cx="475.0" cy="488.3" r="4.17"/><circle cx="480.0" cy="476.3" r="4.17"/><circle cx="482.2" cy="490.4" r="4.17"/><circle cx="483.3" cy="494.8" r="4.17"/><circle cx="486.5" cy="504.6" r="4.17"/><circle cx="493.0" cy="493.7" r="4.17"/><circle cx="497.4" cy="492.6" r="4.17"/><circle cx="499.6" cy="504.6" r="4.17"/><circle cx="506.1" cy="506.3" r="4.17"/><circle cx="512.6" cy="504.6" r="4.17"/><circle cx="515.9" cy="499.8" r="4.17"/><circle cx="521.3" cy="495.9" r="4.17"/><circle cx="526.1" cy="488.3" r="4.17"/><circle cx="528.9" cy="492.2" r="4.17"/><circle cx="534.3" cy="482.8" r="4.17"/><circle cx="540.9" cy="480.7" r="4.17"/><circle cx="545.2" cy="474.1" r="4.17"/><circle cx="551.7" cy="468.7" r="4.17"/><circle cx="562.6" cy="470.2" r="4.17"/><circle cx="571.3" cy="464.3" r="4.17"/><circle cx="580.0" cy="466.5" r="4.17"/><circle cx="380.0" cy="500.2" r="4.17"/><circle cx="384.3" cy="503.5" r="4.17"/><circle cx="388.7" cy="508.9" r="4.17"/><circle cx="393.0" cy="512.2" r="4.17"/><circle cx="399.6" cy="515.4" r="4.17"/><circle cx="395.2" cy="499.1" r="4.17"/><circle cx="400.7" cy="499.1" r="4.17"/><circle cx="406.1" cy="506.1" r="4.17"/><circle cx="412.2" cy="506.1" r="4.17"/><circle cx="416.5" cy="501.7" r="4.17"/><circle cx="422.4" cy="497.0" r="4.17"/><circle cx="426.1" cy="496.5" r="4.17"/><circle cx="431.5" cy="491.1" r="4.17"/><circle cx="417.4" cy="513.9" r="4.17"/><circle cx="411.5" cy="517.6" r="4.17"/><circle cx="405.0" cy="520.9" r="4.17"/><circle cx="435.4" cy="506.1" r="4.17"/><circle cx="380.4" cy="553.7" r="4.17"/><circle cx="385.1" cy="552.0" r="4.17"/><circle cx="389.4" cy="549.6" r="4.17"/><circle cx="391.3" cy="547.6" r="4.17"/><circle cx="393.8" cy="546.0" r="4.17"/><circle cx="396.3" cy="545.3" r="4.17"/><circle cx="398.5" cy="544.8" r="4.17"/><circle cx="401.3" cy="543.4" r="4.17"/><circle cx="406.2" cy="541.0" r="4.17"/><circle cx="408.1" cy="539.7" r="4.17"/><circle cx="409.5" cy="538.0" r="4.17"/><circle cx="413.3" cy="534.9" r="4.17"/><circle cx="414.3" cy="532.5" r="4.17"/><circle cx="416.9" cy="529.5" r="4.17"/><circle cx="418.9" cy="526.6" r="4.17"/><circle cx="419.9" cy="525.0" r="4.17"/><circle cx="422.9" cy="523.6" r="4.17"/><circle cx="424.5" cy="520.9" r="4.17"/><circle cx="427.8" cy="519.4" r="4.17"/><circle cx="429.7" cy="518.0" r="4.17"/><circle cx="433.0" cy="517.4" r="4.17"/><circle cx="437.4" cy="515.4" r="4.17"/><circle cx="439.6" cy="514.3" r="4.17"/><circle cx="442.6" cy="510.0" r="4.17"/><circle cx="445.0" cy="507.3" r="4.17"/><circle cx="446.3" cy="504.6" r="4.17"/><circle cx="448.3" cy="502.1" r="4.17"/><circle cx="450.9" cy="500.4" r="4.17"/><circle cx="453.7" cy="499.3" r="4.17"/><circle cx="456.4" cy="499.7" r="4.17"/><circle cx="461.6" cy="499.8" r="4.17"/><circle cx="465.2" cy="500.7" r="4.17"/><circle cx="469.7" cy="499.7" r="4.17"/><circle cx="473.8" cy="499.7" r="4.17"/><circle cx="477.1" cy="500.8" r="4.17"/><circle cx="480.3" cy="497.6" r="4.17"/><circle cx="481.2" cy="496.3" r="4.17"/><circle cx="381.7" cy="554.1" r="4.17"/><circle cx="387.3" cy="551.6" r="4.17"/><circle cx="389.6" cy="550.0" r="4.17"/><circle cx="391.5" cy="549.3" r="4.17"/><circle cx="396.0" cy="546.6" r="4.17"/><circle cx="399.6" cy="546.2" r="4.17"/><circle cx="401.5" cy="545.5" r="4.17"/><circle cx="404.8" cy="543.1" r="4.17"/><circle cx="406.8" cy="541.8" r="4.17"/><circle cx="409.5" cy="539.6" r="4.17"/><circle cx="412.1" cy="538.1" r="4.17"/><circle cx="413.9" cy="534.7" r="4.17"/><circle cx="415.4" cy="532.7" r="4.17"/><circle cx="417.5" cy="530.7" r="4.17"/><circle cx="420.0" cy="528.7" r="4.17"/><circle cx="424.1" cy="525.6" r="4.17"/><circle cx="425.2" cy="522.4" r="4.17"/><circle cx="430.6" cy="521.8" r="4.17"/><circle cx="435.3" cy="520.3" r="4.17"/><circle cx="437.8" cy="515.4" r="4.17"/><circle cx="440.6" cy="514.2" r="4.17"/><circle cx="382.3" cy="527.4" r="4.17"/><circle cx="388.2" cy="527.4" r="4.17"/><circle cx="393.6" cy="527.2" r="4.17"/><circle cx="396.9" cy="526.8" r="4.17"/><circle cx="404.2" cy="528.3" r="4.17"/><circle cx="410.4" cy="526.7" r="4.17"/><circle cx="416.8" cy="524.2" r="4.17"/><circle cx="419.2" cy="523.6" r="4.17"/><circle cx="426.0" cy="522.6" r="4.17"/><circle cx="449.6" cy="517.6" r="4.17"/><circle cx="453.9" cy="519.8" r="4.17"/><circle cx="457.2" cy="513.3" r="4.17"/><circle cx="462.6" cy="516.5" r="4.17"/><circle cx="471.3" cy="511.5" r="4.17"/><circle cx="479.6" cy="512.2" r="4.17"/><circle cx="487.2" cy="516.5" r="4.17"/><circle cx="460.4" cy="525.2" r="4.17"/><circle cx="465.9" cy="525.2" r="4.17"/><circle cx="470.2" cy="524.8" r="4.17"/><circle cx="475.7" cy="527.4" r="4.17"/><circle cx="480.7" cy="525.9" r="4.17"/><circle cx="473.5" cy="529.6" r="4.17"/><circle cx="441.5" cy="530.2" r="4.17"/><circle cx="454.3" cy="530.7" r="4.17"/><circle cx="437.6" cy="539.3" r="4.17"/><circle cx="450.7" cy="538.3" r="4.17"/><circle cx="456.1" cy="538.7" r="4.17"/><circle cx="461.5" cy="540.4" r="4.17"/><circle cx="467.4" cy="537.2" r="4.17"/><circle cx="447.4" cy="545.4" r="4.17"/><circle cx="430.4" cy="547.0" r="4.17"/><circle cx="424.6" cy="551.3" r="4.17"/><circle cx="420.2" cy="548.0" r="4.17"/><circle cx="414.8" cy="554.6" r="4.17"/><circle cx="411.5" cy="558.9" r="4.17"/><circle cx="407.2" cy="562.2" r="4.17"/><circle cx="403.9" cy="568.7" r="4.17"/><circle cx="401.7" cy="575.2" r="4.17"/><circle cx="399.1" cy="568.7" r="4.17"/><circle cx="418.0" cy="562.2" r="4.17"/><circle cx="423.5" cy="567.6" r="4.17"/><circle cx="427.4" cy="575.2" r="4.17"/><circle cx="432.2" cy="571.3" r="4.17"/><circle cx="438.7" cy="563.3" r="4.17"/><circle cx="441.5" cy="564.3" r="4.17"/><circle cx="396.3" cy="585.0" r="4.17"/><circle cx="397.4" cy="585.7" r="4.17"/><circle cx="394.1" cy="573.0" r="4.17"/><circle cx="389.8" cy="576.3" r="4.17"/><circle cx="384.3" cy="582.8" r="4.17"/><circle cx="555.0" cy="376.5" r="4.17"/><circle cx="559.9" cy="383.9" r="4.17"/><circle cx="564.8" cy="386.3" r="4.17"/><circle cx="571.3" cy="391.2" r="4.17"/><circle cx="577.8" cy="395.3" r="4.17"/><circle cx="584.3" cy="384.7" r="4.17"/><circle cx="590.9" cy="380.6" r="4.17"/><circle cx="597.4" cy="387.9" r="4.17"/><circle cx="603.9" cy="384.7" r="4.17"/><circle cx="611.3" cy="374.1" r="4.17"/><circle cx="615.3" cy="375.7" r="4.17"/><circle cx="618.6" cy="375.7" r="4.17"/><circle cx="624.3" cy="383.9" r="4.17"/><circle cx="621.8" cy="387.9" r="4.17"/><circle cx="622.1" cy="387.9" r="4.17"/><circle cx="618.9" cy="392.2" r="4.17"/><circle cx="614.9" cy="393.8" r="4.17"/><circle cx="608.2" cy="392.8" r="4.17"/><circle cx="608.1" cy="393.1" r="4.17"/><circle cx="601.9" cy="390.6" r="4.17"/><circle cx="597.2" cy="394.8" r="4.17"/><circle cx="595.0" cy="396.2" r="4.17"/><circle cx="587.7" cy="398.3" r="4.17"/><circle cx="584.1" cy="399.7" r="4.17"/><circle cx="580.9" cy="398.8" r="4.17"/><circle cx="577.3" cy="400.0" r="4.17"/><circle cx="572.4" cy="399.4" r="4.17"/><circle cx="569.2" cy="399.5" r="4.17"/><circle cx="569.8" cy="403.5" r="4.17"/><circle cx="562.5" cy="403.4" r="4.17"/><circle cx="560.3" cy="404.4" r="4.17"/><circle cx="555.7" cy="405.0" r="4.17"/><circle cx="583.0" cy="390.3" r="4.17"/><circle cx="586.8" cy="389.0" r="4.17"/><circle cx="588.8" cy="385.8" r="4.17"/><circle cx="596.2" cy="394.5" r="4.17"/><circle cx="597.8" cy="393.1" r="4.17"/><circle cx="605.1" cy="392.5" r="4.17"/><circle cx="606.9" cy="388.2" r="4.17"/><circle cx="607.7" cy="387.2" r="4.17"/><circle cx="612.3" cy="386.1" r="4.17"/><circle cx="611.8" cy="381.2" r="4.17"/><circle cx="480.1" cy="404.0" r="4.17"/><circle cx="485.4" cy="406.7" r="4.17"/><circle cx="486.6" cy="410.8" r="4.17"/><circle cx="489.1" cy="413.8" r="4.17"/><circle cx="488.5" cy="413.3" r="4.17"/><circle cx="490.0" cy="416.9" r="4.17"/><circle cx="494.4" cy="418.3" r="4.17"/><circle cx="494.4" cy="421.0" r="4.17"/><circle cx="497.8" cy="425.1" r="4.17"/><circle cx="501.3" cy="426.8" r="4.17"/><circle cx="504.7" cy="428.4" r="4.17"/><circle cx="509.5" cy="430.3" r="4.17"/><circle cx="518.0" cy="427.9" r="4.17"/><circle cx="518.8" cy="428.7" r="4.17"/><circle cx="521.7" cy="423.9" r="4.17"/><circle cx="521.4" cy="420.3" r="4.17"/><circle cx="524.5" cy="419.6" r="4.17"/><circle cx="531.6" cy="415.6" r="4.17"/><circle cx="535.5" cy="419.3" r="4.17"/><circle cx="538.1" cy="418.0" r="4.17"/><circle cx="543.1" cy="417.4" r="4.17"/><circle cx="547.3" cy="415.4" r="4.17"/><circle cx="548.6" cy="414.7" r="4.17"/><circle cx="550.0" cy="417.8" r="4.17"/><circle cx="553.5" cy="416.1" r="4.17"/><circle cx="554.8" cy="420.2" r="4.17"/><circle cx="561.6" cy="421.4" r="4.17"/><circle cx="565.4" cy="418.9" r="4.17"/><circle cx="568.4" cy="422.4" r="4.17"/><circle cx="574.1" cy="418.5" r="4.17"/><circle cx="576.2" cy="419.2" r="4.17"/><circle cx="579.0" cy="415.7" r="4.17"/><circle cx="583.5" cy="414.4" r="4.17"/><circle cx="583.6" cy="410.8" r="4.17"/><circle cx="588.3" cy="414.0" r="4.17"/><circle cx="593.5" cy="410.8" r="4.17"/><circle cx="598.9" cy="411.1" r="4.17"/><circle cx="602.6" cy="406.2" r="4.17"/><circle cx="605.4" cy="405.5" r="4.17"/><circle cx="611.7" cy="405.6" r="4.17"/><circle cx="612.3" cy="403.5" r="4.17"/><circle cx="616.1" cy="403.4" r="4.17"/><circle cx="616.8" cy="404.7" r="4.17"/><circle cx="620.0" cy="404.2" r="4.17"/><circle cx="624.9" cy="403.9" r="4.17"/><circle cx="629.2" cy="401.9" r="4.17"/><circle cx="630.0" cy="403.9" r="4.17"/><circle cx="630.4" cy="403.9" r="4.17"/><circle cx="631.2" cy="406.9" r="4.17"/><circle cx="632.1" cy="409.0" r="4.17"/><circle cx="632.8" cy="409.9" r="4.17"/><circle cx="633.1" cy="412.5" r="4.17"/><circle cx="471.9" cy="481.1" r="4.17"/><circle cx="479.8" cy="483.4" r="4.17"/><circle cx="482.4" cy="479.1" r="4.17"/><circle cx="493.4" cy="482.5" r="4.17"/><circle cx="501.8" cy="476.0" r="4.17"/><circle cx="507.6" cy="482.2" r="4.17"/><circle cx="514.0" cy="477.7" r="4.17"/><circle cx="513.1" cy="478.5" r="4.17"/><circle cx="524.0" cy="470.5" r="4.17"/><circle cx="525.3" cy="469.0" r="4.17"/><circle cx="522.7" cy="470.5" r="4.17"/><circle cx="532.4" cy="467.2" r="4.17"/><circle cx="531.5" cy="465.0" r="4.17"/><circle cx="537.9" cy="467.9" r="4.17"/><circle cx="545.3" cy="455.0" r="4.17"/><circle cx="550.2" cy="453.6" r="4.17"/><circle cx="557.6" cy="453.0" r="4.17"/><circle cx="556.4" cy="448.6" r="4.17"/><circle cx="560.0" cy="443.3" r="4.17"/><circle cx="571.3" cy="441.9" r="4.17"/><circle cx="572.0" cy="444.8" r="4.17"/><circle cx="574.7" cy="440.5" r="4.17"/><circle cx="581.5" cy="435.6" r="4.17"/><circle cx="586.4" cy="427.5" r="4.17"/><circle cx="590.7" cy="433.9" r="4.17"/><circle cx="587.1" cy="432.0" r="4.17"/><circle cx="604.4" cy="430.3" r="4.17"/><circle cx="600.0" cy="415.6" r="4.17"/><circle cx="610.8" cy="419.6" r="4.17"/><circle cx="613.3" cy="427.3" r="4.17"/><circle cx="617.4" cy="418.6" r="4.17"/><circle cx="624.6" cy="416.7" r="4.17"/><circle cx="634.0" cy="417.3" r="4.17"/><circle cx="491.0" cy="478.9" r="4.17"/><circle cx="500.2" cy="482.6" r="4.17"/><circle cx="500.0" cy="486.1" r="4.17"/><circle cx="511.4" cy="479.3" r="4.17"/><circle cx="509.5" cy="475.4" r="4.17"/><circle cx="511.1" cy="480.1" r="4.17"/><circle cx="517.9" cy="475.3" r="4.17"/><circle cx="525.2" cy="473.7" r="4.17"/><circle cx="520.1" cy="470.2" r="4.17"/><circle cx="530.8" cy="470.0" r="4.17"/><circle cx="533.6" cy="470.3" r="4.17"/><circle cx="527.5" cy="465.6" r="4.17"/><circle cx="529.5" cy="463.8" r="4.17"/><circle cx="540.9" cy="458.2" r="4.17"/><circle cx="545.2" cy="450.1" r="4.17"/><circle cx="545.0" cy="456.8" r="4.17"/><circle cx="547.8" cy="459.4" r="4.17"/><circle cx="558.7" cy="446.9" r="4.17"/><circle cx="559.5" cy="447.0" r="4.17"/><circle cx="565.0" cy="447.1" r="4.17"/><circle cx="577.8" cy="438.5" r="4.17"/><circle cx="574.4" cy="437.9" r="4.17"/><circle cx="578.6" cy="444.6" r="4.17"/><circle cx="588.5" cy="429.1" r="4.17"/><circle cx="591.6" cy="423.7" r="4.17"/><circle cx="602.3" cy="426.3" r="4.17"/><circle cx="601.7" cy="422.3" r="4.17"/><circle cx="605.9" cy="423.8" r="4.17"/><circle cx="619.8" cy="419.9" r="4.17"/><circle cx="617.9" cy="417.5" r="4.17"/><circle cx="623.7" cy="420.5" r="4.17"/><circle cx="629.6" cy="419.0" r="4.17"/><circle cx="500.7" cy="485.7" r="4.17"/><circle cx="509.3" cy="481.3" r="4.17"/><circle cx="512.6" cy="478.4" r="4.17"/><circle cx="510.9" cy="473.1" r="4.17"/><circle cx="526.6" cy="475.4" r="4.17"/><circle cx="518.5" cy="474.4" r="4.17"/><circle cx="529.4" cy="468.6" r="4.17"/><circle cx="528.5" cy="466.9" r="4.17"/><circle cx="541.3" cy="455.4" r="4.17"/><circle cx="540.8" cy="464.4" r="4.17"/><circle cx="540.1" cy="457.3" r="4.17"/><circle cx="550.8" cy="456.6" r="4.17"/><circle cx="555.5" cy="449.8" r="4.17"/><circle cx="564.2" cy="445.1" r="4.17"/><circle cx="564.2" cy="442.3" r="4.17"/><circle cx="567.3" cy="439.3" r="4.17"/><circle cx="580.4" cy="440.1" r="4.17"/><circle cx="584.1" cy="431.6" r="4.17"/><circle cx="592.0" cy="432.2" r="4.17"/><circle cx="593.9" cy="428.7" r="4.17"/><circle cx="594.8" cy="432.5" r="4.17"/><circle cx="601.9" cy="427.0" r="4.17"/><circle cx="604.5" cy="425.5" r="4.17"/><circle cx="608.6" cy="427.6" r="4.17"/><circle cx="620.6" cy="421.3" r="4.17"/><circle cx="616.1" cy="421.3" r="4.17"/><circle cx="624.5" cy="421.4" r="4.17"/><circle cx="628.7" cy="410.9" r="4.17"/><circle cx="504.7" cy="483.2" r="4.17"/><circle cx="513.4" cy="482.5" r="4.17"/><circle cx="513.7" cy="469.0" r="4.17"/><circle cx="525.0" cy="467.9" r="4.17"/><circle cx="522.2" cy="466.8" r="4.17"/><circle cx="534.4" cy="460.7" r="4.17"/><circle cx="538.7" cy="460.4" r="4.17"/><circle cx="543.0" cy="459.8" r="4.17"/><circle cx="546.0" cy="453.8" r="4.17"/><circle cx="548.3" cy="450.7" r="4.17"/><circle cx="542.4" cy="451.8" r="4.17"/><circle cx="558.9" cy="453.1" r="4.17"/><circle cx="563.4" cy="447.9" r="4.17"/><circle cx="564.6" cy="440.6" r="4.17"/><circle cx="563.3" cy="437.6" r="4.17"/><circle cx="570.3" cy="449.6" r="4.17"/><circle cx="572.1" cy="440.4" r="4.17"/><circle cx="573.6" cy="441.4" r="4.17"/><circle cx="579.3" cy="436.6" r="4.17"/><circle cx="587.5" cy="430.5" r="4.17"/><circle cx="585.4" cy="431.6" r="4.17"/><circle cx="591.2" cy="431.6" r="4.17"/><circle cx="597.8" cy="424.8" r="4.17"/><circle cx="604.9" cy="428.3" r="4.17"/><circle cx="601.4" cy="432.4" r="4.17"/><circle cx="601.5" cy="426.0" r="4.17"/><circle cx="607.8" cy="418.1" r="4.17"/><circle cx="612.3" cy="419.7" r="4.17"/><circle cx="619.9" cy="418.5" r="4.17"/><circle cx="627.1" cy="413.8" r="4.17"/><circle cx="512.4" cy="474.4" r="4.17"/><circle cx="519.3" cy="472.3" r="4.17"/><circle cx="526.0" cy="468.2" r="4.17"/><circle cx="531.2" cy="474.6" r="4.17"/><circle cx="542.7" cy="463.3" r="4.17"/><circle cx="535.3" cy="461.7" r="4.17"/><circle cx="542.2" cy="465.0" r="4.17"/><circle cx="553.3" cy="448.6" r="4.17"/><circle cx="557.6" cy="444.2" r="4.17"/><circle cx="559.0" cy="440.2" r="4.17"/><circle cx="565.8" cy="443.0" r="4.17"/><circle cx="565.3" cy="441.4" r="4.17"/><circle cx="576.2" cy="449.4" r="4.17"/><circle cx="584.8" cy="441.3" r="4.17"/><circle cx="585.0" cy="434.5" r="4.17"/><circle cx="588.0" cy="426.9" r="4.17"/><circle cx="588.9" cy="430.1" r="4.17"/><circle cx="600.4" cy="430.7" r="4.17"/><circle cx="603.2" cy="426.3" r="4.17"/><circle cx="604.4" cy="423.1" r="4.17"/><circle cx="613.5" cy="426.2" r="4.17"/><circle cx="616.7" cy="422.3" r="4.17"/><circle cx="621.9" cy="419.1" r="4.17"/><circle cx="624.9" cy="415.8" r="4.17"/><circle cx="632.4" cy="418.3" r="4.17"/><circle cx="521.5" cy="469.0" r="4.17"/><circle cx="527.6" cy="471.8" r="4.17"/><circle cx="533.4" cy="464.8" r="4.17"/><circle cx="535.7" cy="461.8" r="4.17"/><circle cx="545.2" cy="456.5" r="4.17"/><circle cx="541.6" cy="457.0" r="4.17"/><circle cx="550.8" cy="451.6" r="4.17"/><circle cx="560.3" cy="444.0" r="4.17"/><circle cx="563.9" cy="436.3" r="4.17"/><circle cx="566.5" cy="443.5" r="4.17"/><circle cx="575.4" cy="436.2" r="4.17"/><circle cx="576.2" cy="432.2" r="4.17"/><circle cx="580.4" cy="434.5" r="4.17"/><circle cx="585.2" cy="429.5" r="4.17"/><circle cx="590.8" cy="432.1" r="4.17"/><circle cx="592.8" cy="427.5" r="4.17"/><circle cx="598.5" cy="428.7" r="4.17"/><circle cx="602.5" cy="424.3" r="4.17"/><circle cx="604.3" cy="425.0" r="4.17"/><circle cx="613.8" cy="425.0" r="4.17"/><circle cx="619.8" cy="420.6" r="4.17"/><circle cx="624.8" cy="419.6" r="4.17"/><circle cx="630.2" cy="415.7" r="4.17"/><circle cx="511.9" cy="449.4" r="4.17"/><circle cx="515.6" cy="450.4" r="4.17"/><circle cx="523.6" cy="449.4" r="4.17"/><circle cx="526.1" cy="447.3" r="4.17"/><circle cx="531.1" cy="447.2" r="4.17"/><circle cx="534.6" cy="447.4" r="4.17"/><circle cx="538.5" cy="447.2" r="4.17"/><circle cx="539.3" cy="444.4" r="4.17"/><circle cx="546.2" cy="441.8" r="4.17"/><circle cx="552.2" cy="441.4" r="4.17"/><circle cx="556.7" cy="438.8" r="4.17"/><circle cx="561.9" cy="438.6" r="4.17"/><circle cx="569.4" cy="434.1" r="4.17"/><circle cx="576.6" cy="435.2" r="4.17"/><circle cx="578.3" cy="431.6" r="4.17"/><circle cx="583.4" cy="432.3" r="4.17"/><circle cx="587.0" cy="428.3" r="4.17"/><circle cx="588.0" cy="424.7" r="4.17"/><circle cx="591.5" cy="423.6" r="4.17"/><circle cx="596.8" cy="422.5" r="4.17"/><circle cx="599.6" cy="422.0" r="4.17"/><circle cx="603.4" cy="416.9" r="4.17"/><circle cx="605.6" cy="416.2" r="4.17"/><circle cx="608.7" cy="414.5" r="4.17"/><circle cx="611.8" cy="413.9" r="4.17"/><circle cx="612.7" cy="412.2" r="4.17"/><circle cx="534.2" cy="485.3" r="4.17"/><circle cx="539.6" cy="480.6" r="4.17"/><circle cx="543.3" cy="481.8" r="4.17"/><circle cx="544.7" cy="477.7" r="4.17"/><circle cx="548.8" cy="474.3" r="4.17"/><circle cx="550.9" cy="473.6" r="4.17"/><circle cx="556.8" cy="468.8" r="4.17"/><circle cx="558.3" cy="468.1" r="4.17"/><circle cx="562.1" cy="472.0" r="4.17"/><circle cx="567.8" cy="468.6" r="4.17"/><circle cx="571.5" cy="466.4" r="4.17"/><circle cx="574.8" cy="463.7" r="4.17"/><circle cx="580.5" cy="466.0" r="4.17"/><circle cx="582.6" cy="462.8" r="4.17"/><circle cx="587.7" cy="458.3" r="4.17"/><circle cx="589.8" cy="459.0" r="4.17"/><circle cx="595.2" cy="456.3" r="4.17"/><circle cx="596.7" cy="454.7" r="4.17"/><circle cx="600.4" cy="451.3" r="4.17"/><circle cx="604.4" cy="446.0" r="4.17"/><circle cx="609.8" cy="445.6" r="4.17"/><circle cx="616.0" cy="439.5" r="4.17"/><circle cx="461.6" cy="425.6" r="4.17"/><circle cx="463.5" cy="426.1" r="4.17"/><circle cx="468.8" cy="427.8" r="4.17"/><circle cx="472.5" cy="430.1" r="4.17"/><circle cx="473.6" cy="432.9" r="4.17"/><circle cx="477.8" cy="433.3" r="4.17"/><circle cx="481.8" cy="435.6" r="4.17"/><circle cx="483.1" cy="439.5" r="4.17"/><circle cx="482.9" cy="440.4" r="4.17"/><circle cx="488.7" cy="439.2" r="4.17"/><circle cx="490.3" cy="440.2" r="4.17"/><circle cx="492.6" cy="439.5" r="4.17"/><circle cx="497.8" cy="438.3" r="4.17"/><circle cx="499.8" cy="441.1" r="4.17"/><circle cx="501.7" cy="441.5" r="4.17"/><circle cx="505.2" cy="443.2" r="4.17"/><circle cx="506.9" cy="445.3" r="4.17"/><circle cx="509.9" cy="446.2" r="4.17"/><circle cx="512.1" cy="449.6" r="4.17"/><circle cx="516.1" cy="449.2" r="4.17"/><circle cx="520.8" cy="448.8" r="4.17"/><circle cx="524.9" cy="448.4" r="4.17"/><circle cx="525.3" cy="448.9" r="4.17"/><circle cx="457.4" cy="436.0" r="4.17"/><circle cx="461.9" cy="438.2" r="4.17"/><circle cx="464.6" cy="437.2" r="4.17"/><circle cx="466.8" cy="440.0" r="4.17"/><circle cx="471.9" cy="444.2" r="4.17"/><circle cx="473.1" cy="446.6" r="4.17"/><circle cx="477.6" cy="447.5" r="4.17"/><circle cx="482.1" cy="448.4" r="4.17"/><circle cx="485.7" cy="450.0" r="4.17"/><circle cx="492.0" cy="454.2" r="4.17"/><circle cx="493.9" cy="453.9" r="4.17"/><circle cx="495.3" cy="457.7" r="4.17"/><circle cx="502.6" cy="460.3" r="4.17"/><circle cx="504.3" cy="463.0" r="4.17"/><circle cx="509.3" cy="459.6" r="4.17"/><circle cx="514.0" cy="457.8" r="4.17"/><circle cx="512.4" cy="459.4" r="4.17"/><circle cx="519.1" cy="458.2" r="4.17"/><circle cx="522.8" cy="459.2" r="4.17"/><circle cx="523.5" cy="460.5" r="4.17"/><circle cx="524.8" cy="461.7" r="4.17"/><circle cx="530.8" cy="459.9" r="4.17"/><circle cx="533.2" cy="459.1" r="4.17"/><circle cx="537.9" cy="459.0" r="4.17"/><circle cx="539.2" cy="455.6" r="4.17"/><circle cx="463.9" cy="456.5" r="4.17"/><circle cx="466.7" cy="458.0" r="4.17"/><circle cx="469.0" cy="460.9" r="4.17"/><circle cx="476.9" cy="464.2" r="4.17"/><circle cx="479.2" cy="467.4" r="4.17"/><circle cx="482.6" cy="470.1" r="4.17"/><circle cx="485.8" cy="471.7" r="4.17"/><circle cx="488.8" cy="470.7" r="4.17"/><circle cx="490.0" cy="474.9" r="4.17"/><circle cx="493.8" cy="478.2" r="4.17"/><circle cx="495.5" cy="478.0" r="4.17"/><circle cx="499.9" cy="481.0" r="4.17"/><circle cx="506.1" cy="481.7" r="4.17"/><circle cx="506.0" cy="485.0" r="4.17"/><circle cx="508.5" cy="482.3" r="4.17"/><circle cx="513.7" cy="483.6" r="4.17"/><circle cx="518.0" cy="481.3" r="4.17"/><circle cx="524.2" cy="480.2" r="4.17"/><circle cx="524.3" cy="481.3" r="4.17"/><circle cx="528.2" cy="435.9" r="4.17"/><circle cx="535.1" cy="439.0" r="4.17"/><circle cx="538.1" cy="440.9" r="4.17"/><circle cx="542.6" cy="440.2" r="4.17"/><circle cx="550.8" cy="431.2" r="4.17"/><circle cx="554.2" cy="429.6" r="4.17"/><circle cx="559.2" cy="432.5" r="4.17"/><circle cx="568.5" cy="433.3" r="4.17"/><circle cx="566.0" cy="432.1" r="4.17"/><circle cx="569.6" cy="424.8" r="4.17"/><circle cx="574.8" cy="423.3" r="4.17"/><circle cx="579.0" cy="427.0" r="4.17"/><circle cx="582.6" cy="418.5" r="4.17"/><circle cx="593.5" cy="418.1" r="4.17"/><circle cx="595.5" cy="420.3" r="4.17"/><circle cx="597.1" cy="416.4" r="4.17"/><circle cx="602.8" cy="417.4" r="4.17"/><circle cx="606.3" cy="411.9" r="4.17"/><circle cx="612.0" cy="411.1" r="4.17"/><circle cx="619.5" cy="412.8" r="4.17"/><circle cx="621.4" cy="408.0" r="4.17"/><circle cx="515.4" cy="440.2" r="4.17"/><circle cx="521.6" cy="442.7" r="4.17"/><circle cx="527.8" cy="436.9" r="4.17"/><circle cx="532.0" cy="438.2" r="4.17"/><circle cx="533.8" cy="438.2" r="4.17"/><circle cx="545.2" cy="435.9" r="4.17"/><circle cx="545.3" cy="431.8" r="4.17"/><circle cx="556.2" cy="431.4" r="4.17"/><circle cx="564.0" cy="433.4" r="4.17"/><circle cx="566.9" cy="430.4" r="4.17"/><circle cx="570.8" cy="432.4" r="4.17"/><circle cx="578.3" cy="427.5" r="4.17"/><circle cx="582.0" cy="428.5" r="4.17"/><circle cx="588.1" cy="426.0" r="4.17"/><circle cx="593.7" cy="419.7" r="4.17"/><circle cx="598.1" cy="412.2" r="4.17"/><circle cx="596.8" cy="417.9" r="4.17"/><circle cx="606.6" cy="410.8" r="4.17"/><circle cx="613.4" cy="410.3" r="4.17"/><circle cx="615.8" cy="404.6" r="4.17"/><circle cx="546.5" cy="470.7" r="4.17"/><circle cx="551.4" cy="465.7" r="4.17"/><circle cx="552.8" cy="457.3" r="4.17"/><circle cx="558.1" cy="459.4" r="4.17"/><circle cx="567.9" cy="451.2" r="4.17"/><circle cx="572.5" cy="455.0" r="4.17"/><circle cx="574.7" cy="457.5" r="4.17"/><circle cx="574.9" cy="445.3" r="4.17"/><circle cx="584.2" cy="454.0" r="4.17"/><circle cx="593.0" cy="444.3" r="4.17"/><circle cx="595.5" cy="442.8" r="4.17"/><circle cx="597.0" cy="439.8" r="4.17"/><circle cx="605.9" cy="434.5" r="4.17"/><circle cx="609.2" cy="436.0" r="4.17"/><circle cx="610.1" cy="436.4" r="4.17"/><circle cx="609.9" cy="430.0" r="4.17"/><circle cx="616.0" cy="428.3" r="4.17"/><circle cx="456.2" cy="428.7" r="4.17"/><circle cx="461.9" cy="432.6" r="4.17"/><circle cx="469.2" cy="436.3" r="4.17"/><circle cx="473.4" cy="432.1" r="4.17"/><circle cx="472.6" cy="440.4" r="4.17"/><circle cx="479.8" cy="444.0" r="4.17"/><circle cx="480.1" cy="444.3" r="4.17"/><circle cx="485.0" cy="446.6" r="4.17"/><circle cx="495.0" cy="446.5" r="4.17"/><circle cx="496.0" cy="455.6" r="4.17"/><circle cx="500.4" cy="451.4" r="4.17"/><circle cx="502.4" cy="453.2" r="4.17"/><circle cx="504.5" cy="454.5" r="4.17"/><circle cx="513.9" cy="456.5" r="4.17"/><circle cx="513.6" cy="459.7" r="4.17"/><circle cx="515.5" cy="463.3" r="4.17"/><circle cx="527.4" cy="454.6" r="4.17"/><circle cx="529.8" cy="453.9" r="4.17"/><circle cx="533.1" cy="454.5" r="4.17"/><circle cx="544.4" cy="450.5" r="4.17"/><circle cx="541.9" cy="449.5" r="4.17"/><circle cx="461.4" cy="450.2" r="4.17"/><circle cx="467.9" cy="455.4" r="4.17"/><circle cx="467.8" cy="458.7" r="4.17"/><circle cx="474.8" cy="462.6" r="4.17"/><circle cx="477.8" cy="470.0" r="4.17"/><circle cx="477.8" cy="471.6" r="4.17"/><circle cx="486.9" cy="468.5" r="4.17"/><circle cx="497.0" cy="475.5" r="4.17"/><circle cx="498.4" cy="473.7" r="4.17"/><circle cx="504.7" cy="470.9" r="4.17"/><circle cx="504.5" cy="468.5" r="4.17"/><circle cx="517.0" cy="468.6" r="4.17"/><circle cx="512.9" cy="465.0" r="4.17"/><circle cx="520.4" cy="470.2" r="4.17"/><circle cx="521.6" cy="471.0" r="4.17"/><circle cx="445.9" cy="423.2" r="4.17"/><circle cx="445.5" cy="423.6" r="4.17"/><circle cx="447.5" cy="423.0" r="4.17"/><circle cx="451.9" cy="424.3" r="4.17"/><circle cx="457.2" cy="421.7" r="4.17"/><circle cx="463.5" cy="424.5" r="4.17"/><circle cx="466.0" cy="426.7" r="4.17"/><circle cx="468.9" cy="424.7" r="4.17"/><circle cx="471.5" cy="427.3" r="4.17"/><circle cx="476.0" cy="432.8" r="4.17"/><circle cx="481.8" cy="433.0" r="4.17"/><circle cx="481.5" cy="435.4" r="4.17"/><circle cx="484.5" cy="436.9" r="4.17"/><circle cx="490.7" cy="441.7" r="4.17"/><circle cx="494.5" cy="444.2" r="4.17"/><circle cx="499.2" cy="447.0" r="4.17"/><circle cx="504.0" cy="445.6" r="4.17"/><circle cx="510.2" cy="451.0" r="4.17"/><circle cx="509.4" cy="450.6" r="4.17"/><circle cx="515.3" cy="448.8" r="4.17"/><circle cx="519.7" cy="450.1" r="4.17"/><circle cx="522.0" cy="452.3" r="4.17"/><circle cx="456.1" cy="419.9" r="4.17"/><circle cx="455.0" cy="427.1" r="4.17"/><circle cx="461.3" cy="427.5" r="4.17"/><circle cx="466.6" cy="432.2" r="4.17"/><circle cx="466.1" cy="434.4" r="4.17"/><circle cx="465.9" cy="439.9" r="4.17"/><circle cx="472.1" cy="444.3" r="4.17"/><circle cx="472.9" cy="446.8" r="4.17"/><circle cx="478.6" cy="452.1" r="4.17"/><circle cx="483.5" cy="452.5" r="4.17"/><circle cx="484.2" cy="458.0" r="4.17"/><circle cx="491.6" cy="456.6" r="4.17"/><circle cx="493.9" cy="457.6" r="4.17"/><circle cx="502.3" cy="461.5" r="4.17"/><circle cx="506.6" cy="460.1" r="4.17"/><circle cx="506.8" cy="463.6" r="4.17"/><circle cx="513.7" cy="463.6" r="4.17"/><circle cx="521.1" cy="460.1" r="4.17"/><circle cx="465.8" cy="447.9" r="4.17"/><circle cx="469.7" cy="453.3" r="4.17"/><circle cx="468.0" cy="457.5" r="4.17"/><circle cx="469.2" cy="457.1" r="4.17"/><circle cx="474.9" cy="462.7" r="4.17"/><circle cx="474.9" cy="463.1" r="4.17"/><circle cx="484.3" cy="469.5" r="4.17"/><circle cx="488.4" cy="472.4" r="4.17"/><circle cx="487.7" cy="471.5" r="4.17"/><circle cx="492.0" cy="471.5" r="4.17"/><circle cx="498.6" cy="475.8" r="4.17"/><circle cx="499.7" cy="478.4" r="4.17"/><circle cx="501.8" cy="476.4" r="4.17"/><circle cx="511.7" cy="473.9" r="4.17"/><circle cx="403.0" cy="326.2" r="4.17"/><circle cx="406.0" cy="333.2" r="4.17"/><circle cx="407.3" cy="339.3" r="4.17"/><circle cx="410.3" cy="344.3" r="4.17"/><circle cx="411.1" cy="348.4" r="4.17"/><circle cx="411.8" cy="352.1" r="4.17"/><circle cx="415.7" cy="357.9" r="4.17"/><circle cx="417.9" cy="363.3" r="4.17"/><circle cx="418.1" cy="367.4" r="4.17"/><circle cx="420.0" cy="368.2" r="4.17"/><circle cx="421.6" cy="372.9" r="4.17"/><circle cx="422.9" cy="373.9" r="4.17"/><circle cx="423.8" cy="377.9" r="4.17"/><circle cx="425.4" cy="381.6" r="4.17"/><circle cx="429.7" cy="386.7" r="4.17"/><circle cx="431.7" cy="391.8" r="4.17"/><circle cx="432.8" cy="394.1" r="4.17"/><circle cx="434.8" cy="397.8" r="4.17"/><circle cx="435.9" cy="400.5" r="4.17"/><circle cx="437.8" cy="403.8" r="4.17"/><circle cx="441.6" cy="407.4" r="4.17"/><circle cx="443.5" cy="412.5" r="4.17"/><circle cx="447.4" cy="416.2" r="4.17"/><circle cx="450.3" cy="420.4" r="4.17"/><circle cx="427.2" cy="330.3" r="4.17"/><circle cx="424.3" cy="336.1" r="4.17"/><circle cx="421.1" cy="339.5" r="4.17"/><circle cx="417.3" cy="343.6" r="4.17"/><circle cx="416.4" cy="348.0" r="4.17"/><circle cx="421.5" cy="352.0" r="4.17"/><circle cx="422.3" cy="353.5" r="4.17"/><circle cx="425.9" cy="358.6" r="4.17"/><circle cx="427.2" cy="362.7" r="4.17"/><circle cx="430.4" cy="367.6" r="4.17"/><circle cx="435.6" cy="370.8" r="4.17"/><circle cx="437.7" cy="376.7" r="4.17"/><circle cx="438.1" cy="381.5" r="4.17"/><circle cx="438.1" cy="387.5" r="4.17"/><circle cx="439.4" cy="390.8" r="4.17"/><circle cx="438.8" cy="395.8" r="4.17"/><circle cx="441.7" cy="401.0" r="4.17"/><circle cx="443.0" cy="404.7" r="4.17"/><circle cx="447.1" cy="408.2" r="4.17"/><circle cx="448.3" cy="411.3" r="4.17"/><circle cx="453.0" cy="414.1" r="4.17"/><circle cx="456.5" cy="417.9" r="4.17"/></g>
<g clip-path="url(#c2)" fill="#808080" fill-opacity="0.5" stroke="#808080" stroke-opacity="0.5" stroke-width="1.39"><circle cx="844.5" cy="643.5" r="4.17"/><circle cx="844.5" cy="643.5" r="4.17"/><circle cx="844.5" cy="643.5" r="4.17"/><circle cx="1340.2" cy="643.5" r="4.17"/><circle cx="1340.2" cy="643.5" r="4.17"/><circle cx="1340.2" cy="643.5" r="4.17"/><circle cx="1340.2" cy="643.5" r="4.17"/><circle cx="1340.2" cy="643.5" r="4.17"/><circle cx="1340.2" cy="643.5" r="4.17"/><circle cx="1340.2" cy="643.5" r="4.17"/><circle cx="1340.2" cy="643.5" r="4.17"/><circle cx="1340.2" cy="643.5" r="4.17"/><circle cx="1340.2" cy="643.5" r="4.17"/><circle cx="1099.3" cy="85.2" r="4.17"/><circle cx="1100.4" cy="91.1" r="4.17"/><circle cx="1100.4" cy="98.3" r="4.17"/><circle cx="1100.4" cy="102.2" r="4.17"/><circle cx="1101.5" cy="109.1" r="4.17"/><circle cx="1100.4" cy="116.3" r="4.17"/><circle cx="1100.4" cy="123.3" r="4.17"/><circle cx="1101.5" cy="130.2" r="4.17"/><circle cx="1102.6" cy="134.1" r="4.17"/><circle cx="1105.2" cy="140.0" r="4.17"/><circle cx="1108.5" cy="141.7" r="4.17"/><circle cx="1110.7" cy="147.8" r="4.17"/><circle cx="1112.4" cy="153.3" r="4.17"/><circle cx="1113.5" cy="161.3" r="4.17"/><circle cx="1114.6" cy="165.2" r="4.17"/><circle cx="1114.6" cy="170.0" r="4.17"/><circle cx="1115.4" cy="179.3" r="4.17"/><circle cx="1115.4" cy="188.5" r="4.17"/><circle cx="1116.5" cy="194.3" r="4.17"/><circle cx="1117.6" cy="202.2" r="4.17"/><circle cx="1117.6" cy="204.3" r="4.17"/><circle cx="1118.7" cy="209.1" r="4.17"/><circle cx="1121.5" cy="214.6" r="4.17"/><circle cx="1122.6" cy="216.1" r="4.17"/><circle cx="1124.8" cy="221.1" r="4.17"/><circle cx="1125.4" cy="228.7" r="4.17"/><circle cx="1127.0" cy="236.5" r="4.17"/><circle cx="1129.1" cy="239.8" r="4.17"/><circle cx="1134.6" cy="244.8" r="4.17"/><circle cx="1137.2" cy="252.4" r="4.17"/><circle cx="1137.2" cy="260.4" r="4.17"/><circle cx="1138.9" cy="269.1" r="4.17"/><circle cx="1140.4" cy="274.6" r="4.17"/><circle cx="1142.2" cy="276.7" r="4.17"/><circle cx="1144.3" cy="283.3" r="4.17"/><circle cx="1147.6" cy="282.2" r="4.17"/><circle cx="1148.7" cy="293.0" r="4.17"/><circle cx="1151.3" cy="296.3" r="4.17"/><circle cx="1153.5" cy="303.9" r="4.17"/><circle cx="1155.2" cy="306.1" r="4.17"/><circle cx="1155.2" cy="312.2" r="4.17"/><circle cx="1158.5" cy="318.0" r="4.17"/><circle cx="1162.8" cy="321.3" r="4.17"/><circle cx="1163.9" cy="328.9" r="4.17"/><circle cx="1165.7" cy="334.3" r="4.17"/><circle cx="1167.2" cy="340.4" r="4.17"/><circle cx="1170.4" cy="340.9" r="4.17"/><circle cx="1172.6" cy="343.0" r="4.17"/><circle cx="1174.3" cy="344.8" r="4.17"/><circle cx="1178.7" cy="348.0" r="4.17"/><circle cx="1179.8" cy="352.4" r="4.17"/><circle cx="1183.0" cy="361.1" r="4.17"/><circle cx="1185.2" cy="366.5" r="4.17"/><circle cx="1185.2" cy="373.0" r="4.17"/><circle cx="1186.3" cy="378.5" r="4.17"/><circle cx="1186.3" cy="385.0" r="4.17"/><circle cx="1189.6" cy="389.3" r="4.17"/><circle cx="1191.7" cy="397.0" r="4.17"/><circle cx="1192.8" cy="404.6" r="4.17"/><circle cx="1195.0" cy="411.1" r="4.17"/><circle cx="1197.2" cy="415.4" r="4.17"/><circle cx="1202.6" cy="417.6" r="4.17"/><circle cx="1203.7" cy="423.0" r="4.17"/><circle cx="1205.9" cy="428.5" r="4.17"/><circle cx="1208.0" cy="433.9" r="4.17"/><circle cx="1210.2" cy="442.6" r="4.17"/><circle cx="1213.0" cy="451.3" r="4.17"/><circle cx="1215.7" cy="457.8" r="4.17"/><circle cx="1218.9" cy="462.2" r="4.17"/><circle cx="1222.2" cy="466.5" r="4.17"/><circle cx="1114.3" cy="84.3" r="4.17"/><circle cx="1116.5" cy="91.3" r="4.17"/><circle cx="1117.6" cy="97.2" r="4.17"/><circle cx="1118.7" cy="102.6" r="4.17"/><circle cx="1118.7" cy="107.0" r="4.17"/><circle cx="1119.3" cy="114.1" r="4.17"/><circle cx="1120.4" cy="118.9" r="4.17"/><circle cx="1120.4" cy="124.3" r="4.17"/><circle cx="1121.5" cy="128.7" r="4.17"/><circle cx="1122.2" cy="134.1" r="4.17"/><circle cx="1123.0" cy="138.5" r="4.17"/><circle cx="1123.0" cy="142.8" r="4.17"/><circle cx="1123.7" cy="147.2" r="4.17"/><circle cx="1124.1" cy="151.5" r="4.17"/><circle cx="1125.9" cy="157.0" r="4.17"/><circle cx="1129.1" cy="161.3" r="4.17"/><circle cx="1130.2" cy="164.6" r="4.17"/><circle cx="1131.3" cy="168.9" r="4.17"/><circle cx="1132.0" cy="173.3" r="4.17"/><circle cx="1132.8" cy="177.6" r="4.17"/><circle cx="1133.5" cy="181.3" r="4.17"/><circle cx="1134.6" cy="187.4" r="4.17"/><circle cx="1135.2" cy="191.7" r="4.17"/><circle cx="1135.7" cy="195.0" r="4.17"/><circle cx="1137.2" cy="200.4" r="4.17"/><circle cx="1135.0" cy="203.7" r="4.17"/><circle cx="1138.9" cy="207.0" r="4.17"/><circle cx="1139.6" cy="212.4" r="4.17"/><circle cx="1141.7" cy="218.9" r="4.17"/><circle cx="1143.9" cy="226.1" r="4.17"/><circle cx="1139.6" cy="227.6" r="4.17"/><circle cx="1139.6" cy="231.1" r="4.17"/><circle cx="1142.2" cy="238.7" r="4.17"/><circle cx="1143.9" cy="245.7" r="4.17"/><circle cx="1145.4" cy="251.1" r="4.17"/><circle cx="1148.7" cy="257.6" r="4.17"/><circle cx="1145.4" cy="261.5" r="4.17"/><circle cx="1152.4" cy="264.8" r="4.17"/><circle cx="1154.6" cy="270.2" r="4.17"/><circle cx="1147.0" cy="271.3" r="4.17"/><circle cx="1157.4" cy="275.7" r="4.17"/><circle cx="1157.4" cy="281.1" r="4.17"/><circle cx="1159.6" cy="287.6" r="4.17"/><circle cx="1160.0" cy="290.9" r="4.17"/><circle cx="1161.3" cy="297.4" r="4.17"/><circle cx="1164.3" cy="304.6" r="4.17"/><circle cx="1167.6" cy="311.5" r="4.17"/><circle cx="1172.6" cy="318.0" r="4.17"/><circle cx="1174.3" cy="324.1" r="4.17"/><circle cx="1176.5" cy="330.0" r="4.17"/><circle cx="1178.5" cy="336.5" r="4.17"/><circle cx="1179.8" cy="343.0" r="4.17"/><circle cx="1180.9" cy="348.5" r="4.17"/><circle cx="1185.7" cy="352.8" r="4.17"/><circle cx="1189.6" cy="356.1" r="4.17"/><circle cx="1192.2" cy="360.4" r="4.17"/><circle cx="1193.3" cy="363.7" r="4.17"/><circle cx="1196.5" cy="369.8" r="4.17"/><circle cx="1198.7" cy="376.3" r="4.17"/><circle cx="1195.7" cy="386.7" r="4.17"/><circle cx="1198.3" cy="393.7" r="4.17"/><circle cx="1200.4" cy="397.0" r="4.17"/><circle cx="1202.2" cy="407.8" r="4.17"/><circle cx="1205.4" cy="410.0" r="4.17"/><circle cx="1207.0" cy="420.9" r="4.17"/><circle cx="1209.1" cy="435.0" r="4.17"/><circle cx="1214.6" cy="440.9" r="4.17"/><circle cx="1217.4" cy="447.0" r="4.17"/><circle cx="1220.7" cy="454.6" r="4.17"/><circle cx="1127.4" cy="102.2" r="4.17"/><circle cx="1128.5" cy="108.5" r="4.17"/><circle cx="1129.6" cy="118.3" r="4.17"/><circle cx="1129.6" cy="122.2" r="4.17"/><circle cx="1129.6" cy="132.6" r="4.17"/><circle cx="1129.6" cy="140.2" r="4.17"/><circle cx="1130.7" cy="148.7" r="4.17"/><circle cx="1130.7" cy="153.7" r="4.17"/><circle cx="1130.2" cy="159.1" r="4.17"/><circle cx="1131.3" cy="165.7" r="4.17"/><circle cx="1133.0" cy="171.7" r="4.17"/><circle cx="1133.9" cy="176.5" r="4.17"/><circle cx="1134.8" cy="183.0" r="4.17"/><circle cx="1135.9" cy="189.1" r="4.17"/><circle cx="1137.0" cy="197.2" r="4.17"/><circle cx="1138.3" cy="203.0" r="4.17"/><circle cx="1140.4" cy="210.9" r="4.17"/><circle cx="1142.2" cy="216.1" r="4.17"/><circle cx="1143.5" cy="222.2" r="4.17"/><circle cx="1142.2" cy="232.2" r="4.17"/><circle cx="1143.9" cy="243.0" r="4.17"/><circle cx="1147.0" cy="249.1" r="4.17"/><circle cx="1149.8" cy="254.3" r="4.17"/><circle cx="1152.0" cy="260.4" r="4.17"/><circle cx="1154.8" cy="267.4" r="4.17"/><circle cx="1157.0" cy="273.0" r="4.17"/><circle cx="1158.7" cy="279.6" r="4.17"/><circle cx="1160.9" cy="285.4" r="4.17"/><circle cx="1162.2" cy="293.0" r="4.17"/><circle cx="1163.9" cy="300.0" r="4.17"/><circle cx="1166.5" cy="307.2" r="4.17"/><circle cx="1170.0" cy="314.3" r="4.17"/><circle cx="1173.0" cy="321.3" r="4.17"/><circle cx="1175.7" cy="327.4" r="4.17"/><circle cx="1177.4" cy="333.9" r="4.17"/><circle cx="1179.1" cy="339.8" r="4.17"/><circle cx="1181.7" cy="346.3" r="4.17"/><circle cx="1184.3" cy="350.0" r="4.17"/><circle cx="983.7" cy="178.0" r="4.17"/><circle cx="987.7" cy="178.0" r="4.17"/><circle cx="988.9" cy="179.8" r="4.17"/><circle cx="991.8" cy="180.2" r="4.17"/><circle cx="996.4" cy="179.8" r="4.17"/><circle cx="997.7" cy="179.7" r="4.17"/><circle cx="1000.0" cy="179.5" r="4.17"/><circle cx="1003.4" cy="180.1" r="4.17"/><circle cx="1006.7" cy="180.6" r="4.17"/><circle cx="1010.5" cy="182.3" r="4.17"/><circle cx="1011.9" cy="183.8" r="4.17"/><circle cx="1015.5" cy="186.5" r="4.17"/><circle cx="1018.9" cy="189.4" r="4.17"/><circle cx="1024.6" cy="190.2" r="4.17"/><circle cx="1028.9" cy="192.4" r="4.17"/><circle cx="1033.3" cy="196.7" r="4.17"/><circle cx="1037.6" cy="200.0" r="4.17"/><circle cx="1042.0" cy="202.2" r="4.17"/><circle cx="1046.3" cy="205.4" r="4.17"/><circle cx="1050.0" cy="209.8" r="4.17"/><circle cx="1055.0" cy="214.1" r="4.17"/><circle cx="1059.3" cy="219.6" r="4.17"/><circle cx="1064.3" cy="223.5" r="4.17"/><circle cx="1069.1" cy="228.3" r="4.17"/><circle cx="1074.1" cy="234.3" r="4.17"/><circle cx="1078.9" cy="239.8" r="4.17"/><circle cx="1084.3" cy="245.2" r="4.17"/><circle cx="1089.1" cy="251.7" r="4.17"/><circle cx="1094.1" cy="255.4" r="4.17"/><circle cx="1098.5" cy="262.0" r="4.17"/><circle cx="1101.7" cy="264.1" r="4.17"/><circle cx="1106.1" cy="269.6" r="4.17"/><circle cx="1109.3" cy="275.0" r="4.17"/><circle cx="1111.5" cy="278.3" r="4.17"/><circle cx="1115.2" cy="286.5" r="4.17"/><circle cx="1119.1" cy="292.4" r="4.17"/><circle cx="1124.3" cy="297.4" r="4.17"/><circle cx="1127.4" cy="305.0" r="4.17"/><circle cx="1130.2" cy="308.7" r="4.17"/><circle cx="1133.0" cy="313.7" r="4.17"/><circle cx="1136.3" cy="319.1" r="4.17"/><circle cx="1140.4" cy="325.0" r="4.17"/><circle cx="1145.4" cy="331.1" r="4.17"/><circle cx="1150.4" cy="337.0" r="4.17"/><circle cx="1153.0" cy="342.0" r="4.17"/><circle cx="1155.2" cy="346.3" r="4.17"/><circle cx="1157.4" cy="350.0" r="4.17"/><circle cx="1160.0" cy="355.0" r="4.17"/><circle cx="1166.1" cy="352.2" r="4.17"/><circle cx="1168.7" cy="354.3" r="4.17"/><circle cx="1166.7" cy="366.5" r="4.17"/><circle cx="1171.1" cy="367.6" r="4.17"/><circle cx="1173.3" cy="375.2" r="4.17"/><circle cx="1174.3" cy="379.1" r="4.17"/><circle cx="1177.6" cy="382.8" r="4.17"/><circle cx="1175.4" cy="388.3" r="4.17"/><circle cx="1177.6" cy="395.4" r="4.17"/><circle cx="1179.1" cy="406.3" r="4.17"/><circle cx="1180.4" cy="417.0" r="4.17"/><circle cx="1182.6" cy="423.0" r="4.17"/><circle cx="1186.3" cy="428.5" r="4.17"/><circle cx="1190.7" cy="435.0" r="4.17"/><circle cx="1196.1" cy="438.3" r="4.17"/><circle cx="1199.3" cy="444.8" r="4.17"/><circle cx="1202.6" cy="453.5" r="4.17"/><circle cx="999.4" cy="245.6" r="4.17"/><circle cx="1000.7" cy="247.3" r="4.17"/><circle cx="1001.7" cy="248.7" r="4.17"/><circle cx="1002.9" cy="250.5" r="4.17"/><circle cx="1003.6" cy="252.6" r="4.17"/><circle cx="1006.6" cy="255.6" r="4.17"/><circle cx="1007.3" cy="260.1" r="4.17"/><circle cx="1010.4" cy="267.4" r="4.17"/><circle cx="1012.0" cy="274.3" r="4.17"/><circle cx="1014.8" cy="278.3" r="4.17"/><circle cx="1018.0" cy="280.4" r="4.17"/><circle cx="1022.4" cy="279.3" r="4.17"/><circle cx="1026.7" cy="280.0" r="4.17"/><circle cx="1030.0" cy="279.3" r="4.17"/><circle cx="1033.3" cy="280.4" r="4.17"/><circle cx="1037.0" cy="278.7" r="4.17"/><circle cx="1040.4" cy="279.3" r="4.17"/><circle cx="1042.0" cy="286.5" r="4.17"/><circle cx="1044.6" cy="292.4" r="4.17"/><circle cx="1047.4" cy="296.1" r="4.17"/><circle cx="1051.7" cy="300.0" r="4.17"/><circle cx="1057.2" cy="300.0" r="4.17"/><circle cx="1062.6" cy="305.4" r="4.17"/><circle cx="1067.0" cy="308.7" r="4.17"/><circle cx="1072.6" cy="317.0" r="4.17"/><circle cx="1075.2" cy="320.2" r="4.17"/><circle cx="1078.5" cy="326.7" r="4.17"/><circle cx="1082.4" cy="331.1" r="4.17"/><circle cx="1086.7" cy="332.2" r="4.17"/><circle cx="1090.0" cy="331.1" r="4.17"/><circle cx="1094.3" cy="333.3" r="4.17"/><circle cx="1096.5" cy="330.0" r="4.17"/><circle cx="1099.8" cy="338.7" r="4.17"/><circle cx="1103.0" cy="344.1" r="4.17"/><circle cx="1104.1" cy="348.5" r="4.17"/><circle cx="1107.4" cy="353.9" r="4.17"/><circle cx="1109.6" cy="348.5" r="4.17"/><circle cx="1111.7" cy="347.4" r="4.17"/><circle cx="1117.2" cy="343.5" r="4.17"/><circle cx="1122.6" cy="338.7" r="4.17"/><circle cx="1127.4" cy="336.1" r="4.17"/><circle cx="1130.2" cy="342.0" r="4.17"/><circle cx="1133.5" cy="348.5" r="4.17"/><circle cx="1136.7" cy="348.5" r="4.17"/><circle cx="1142.2" cy="342.6" r="4.17"/><circle cx="1146.5" cy="349.6" r="4.17"/><circle cx="1123.7" cy="349.1" r="4.17"/><circle cx="1123.3" cy="357.6" r="4.17"/><circle cx="925.6" cy="350.9" r="4.17"/><circle cx="926.7" cy="346.0" r="4.17"/><circle cx="928.6" cy="343.3" r="4.17"/><circle cx="929.7" cy="340.9" r="4.17"/><circle cx="932.7" cy="336.6" r="4.17"/><circle cx="934.1" cy="335.1" r="4.17"/><circle cx="936.1" cy="332.2" r="4.17"/><circle cx="939.2" cy="328.6" r="4.17"/><circle cx="940.4" cy="326.2" r="4.17"/><circle cx="943.0" cy="323.3" r="4.17"/><circle cx="945.0" cy="321.2" r="4.17"/><circle cx="948.1" cy="316.7" r="4.17"/><circle cx="952.2" cy="314.8" r="4.17"/><circle cx="954.8" cy="313.0" r="4.17"/><circle cx="958.9" cy="307.3" r="4.17"/><circle cx="962.0" cy="306.2" r="4.17"/><circle cx="965.8" cy="304.7" r="4.17"/><circle cx="968.7" cy="304.0" r="4.17"/><circle cx="974.1" cy="302.4" r="4.17"/><circle cx="978.3" cy="301.6" r="4.17"/><circle cx="982.3" cy="300.6" r="4.17"/><circle cx="985.4" cy="300.3" r="4.17"/><circle cx="989.8" cy="298.6" r="4.17"/><circle cx="994.1" cy="298.1" r="4.17"/><circle cx="998.6" cy="297.1" r="4.17"/><circle cx="1003.6" cy="297.4" r="4.17"/><circle cx="1007.0" cy="297.7" r="4.17"/><circle cx="1010.0" cy="298.3" r="4.17"/><circle cx="1016.2" cy="298.3" r="4.17"/><circle cx="1021.0" cy="298.2" r="4.17"/><circle cx="1025.1" cy="299.1" r="4.17"/><circle cx="1028.0" cy="300.2" r="4.17"/><circle cx="1033.5" cy="302.5" r="4.17"/><circle cx="1038.9" cy="303.1" r="4.17"/><circle cx="1043.5" cy="305.2" r="4.17"/><circle cx="1045.4" cy="307.2" r="4.17"/><circle cx="1049.1" cy="309.6" r="4.17"/><circle cx="1054.1" cy="313.7" r="4.17"/><circle cx="1058.5" cy="314.8" r="4.17"/><circle cx="1063.9" cy="321.3" r="4.17"/><circle cx="1068.3" cy="323.5" r="4.17"/><circle cx="1072.6" cy="327.8" r="4.17"/><circle cx="1078.0" cy="333.3" r="4.17"/><circle cx="1083.5" cy="336.5" r="4.17"/><circle cx="1087.8" cy="340.9" r="4.17"/><circle cx="1090.4" cy="346.3" r="4.17"/><circle cx="1094.3" cy="352.8" r="4.17"/><circle cx="1097.6" cy="355.0" r="4.17"/><circle cx="1102.0" cy="353.9" r="4.17"/><circle cx="1105.2" cy="355.0" r="4.17"/><circle cx="1109.6" cy="361.5" r="4.17"/><circle cx="1112.8" cy="367.4" r="4.17"/><circle cx="1115.0" cy="378.5" r="4.17"/><circle cx="1117.2" cy="388.7" r="4.17"/><circle cx="922.3" cy="448.7" r="4.17"/><circle cx="922.3" cy="447.0" r="4.17"/><circle cx="923.1" cy="445.0" r="4.17"/><circle cx="926.7" cy="441.0" r="4.17"/><circle cx="928.2" cy="438.5" r="4.17"/><circle cx="931.1" cy="435.9" r="4.17"/><circle cx="933.3" cy="432.8" r="4.17"/><circle cx="936.6" cy="429.3" r="4.17"/><circle cx="940.6" cy="428.1" r="4.17"/><circle cx="945.0" cy="425.1" r="4.17"/><circle cx="947.8" cy="425.0" r="4.17"/><circle cx="949.8" cy="424.8" r="4.17"/><circle cx="952.3" cy="423.8" r="4.17"/><circle cx="957.1" cy="423.4" r="4.17"/><circle cx="960.3" cy="423.2" r="4.17"/><circle cx="964.9" cy="421.5" r="4.17"/><circle cx="969.0" cy="420.2" r="4.17"/><circle cx="973.1" cy="418.4" r="4.17"/><circle cx="978.9" cy="417.6" r="4.17"/><circle cx="982.2" cy="422.0" r="4.17"/><circle cx="986.5" cy="420.9" r="4.17"/><circle cx="992.0" cy="423.0" r="4.17"/><circle cx="997.4" cy="424.1" r="4.17"/><circle cx="1002.8" cy="424.1" r="4.17"/><circle cx="1008.3" cy="422.0" r="4.17"/><circle cx="1012.6" cy="420.9" r="4.17"/><circle cx="1019.1" cy="428.5" r="4.17"/><circle cx="1024.6" cy="430.7" r="4.17"/><circle cx="1031.1" cy="432.2" r="4.17"/><circle cx="1036.5" cy="433.9" r="4.17"/><circle cx="1042.0" cy="439.3" r="4.17"/><circle cx="1048.5" cy="446.5" r="4.17"/><circle cx="1055.0" cy="450.9" r="4.17"/><circle cx="1059.3" cy="452.4" r="4.17"/><circle cx="1034.4" cy="334.0" r="4.17"/><circle cx="1035.4" cy="338.3" r="4.17"/><circle cx="1036.4" cy="340.1" r="4.17"/><circle cx="1037.3" cy="343.2" r="4.17"/><circle cx="1037.5" cy="346.5" r="4.17"/><circle cx="1037.7" cy="348.8" r="4.17"/><circle cx="1039.5" cy="352.4" r="4.17"/><circle cx="1040.3" cy="355.6" r="4.17"/><circle cx="1041.2" cy="357.1" r="4.17"/><circle cx="1043.0" cy="361.8" r="4.17"/><circle cx="1044.1" cy="365.7" r="4.17"/><circle cx="1044.4" cy="366.6" r="4.17"/><circle cx="1046.6" cy="370.7" r="4.17"/><circle cx="1047.6" cy="374.3" r="4.17"/><circle cx="1048.9" cy="375.9" r="4.17"/><circle cx="1051.3" cy="380.9" r="4.17"/><circle cx="1053.0" cy="384.3" r="4.17"/><circle cx="1053.7" cy="387.0" r="4.17"/><circle cx="1056.2" cy="390.9" r="4.17"/><circle cx="1058.7" cy="394.7" r="4.17"/><circle cx="1059.8" cy="396.3" r="4.17"/><circle cx="1061.3" cy="398.4" r="4.17"/><circle cx="1065.5" cy="399.9" r="4.17"/><circle cx="1067.8" cy="402.8" r="4.17"/><circle cx="1070.0" cy="405.1" r="4.17"/><circle cx="1071.1" cy="409.7" r="4.17"/><circle cx="1071.3" cy="411.5" r="4.17"/><circle cx="1073.1" cy="413.8" r="4.17"/><circle cx="1074.4" cy="416.3" r="4.17"/><circle cx="1075.9" cy="418.5" r="4.17"/><circle cx="1077.9" cy="422.2" r="4.17"/><circle cx="1078.8" cy="424.0" r="4.17"/><circle cx="1080.5" cy="426.6" r="4.17"/><circle cx="1082.9" cy="431.3" r="4.17"/><circle cx="1085.7" cy="435.1" r="4.17"/><circle cx="1088.2" cy="437.6" r="4.17"/><circle cx="1091.7" cy="442.5" r="4.17"/><circle cx="1094.4" cy="445.1" r="4.17"/><circle cx="1098.3" cy="448.5" r="4.17"/><circle cx="1101.2" cy="452.9" r="4.17"/><circle cx="1103.3" cy="455.1" r="4.17"/><circle cx="1106.0" cy="458.1" r="4.17"/><circle cx="1108.6" cy="459.6" r="4.17"/><circle cx="1111.4" cy="462.3" r="4.17"/><circle cx="1113.4" cy="464.2" r="4.17"/><circle cx="1117.0" cy="466.8" r="4.17"/><circle cx="1048.3" cy="336.8" r="4.17"/><circle cx="1047.7" cy="340.4" r="4.17"/><circle cx="1049.5" cy="344.1" r="4.17"/><circle cx="1051.2" cy="348.6" r="4.17"/><circle cx="1052.0" cy="352.2" r="4.17"/><circle cx="1052.8" cy="357.1" r="4.17"/><circle cx="1053.1" cy="359.9" r="4.17"/><circle cx="1056.2" cy="364.7" r="4.17"/><circle cx="1058.9" cy="367.7" r="4.17"/><circle cx="1060.2" cy="370.8" r="4.17"/><circle cx="1060.8" cy="373.0" r="4.17"/><circle cx="1062.0" cy="375.5" r="4.17"/><circle cx="1063.3" cy="379.7" r="4.17"/><circle cx="1064.6" cy="383.4" r="4.17"/><circle cx="1065.4" cy="386.7" r="4.17"/><circle cx="1066.5" cy="388.6" r="4.17"/><circle cx="1069.0" cy="393.5" r="4.17"/><circle cx="1071.0" cy="398.6" r="4.17"/><circle cx="1010.2" cy="417.8" r="4.17"/><circle cx="1011.8" cy="420.9" r="4.17"/><circle cx="1012.4" cy="424.3" r="4.17"/><circle cx="1013.5" cy="427.1" r="4.17"/><circle cx="1014.3" cy="429.7" r="4.17"/><circle cx="1015.1" cy="432.1" r="4.17"/><circle cx="1016.6" cy="435.4" r="4.17"/><circle cx="1016.6" cy="436.3" r="4.17"/><circle cx="1017.7" cy="439.7" r="4.17"/><circle cx="1018.7" cy="442.6" r="4.17"/><circle cx="1020.4" cy="446.0" r="4.17"/><circle cx="1022.0" cy="448.6" r="4.17"/><circle cx="1023.7" cy="452.5" r="4.17"/><circle cx="1024.8" cy="453.0" r="4.17"/><circle cx="1025.7" cy="454.5" r="4.17"/><circle cx="1026.2" cy="457.2" r="4.17"/><circle cx="1027.7" cy="458.7" r="4.17"/><circle cx="1028.7" cy="459.8" r="4.17"/><circle cx="1030.3" cy="461.8" r="4.17"/><circle cx="1031.9" cy="463.5" r="4.17"/><circle cx="1034.5" cy="465.0" r="4.17"/><circle cx="1035.0" cy="466.3" r="4.17"/><circle cx="1038.0" cy="468.6" r="4.17"/><circle cx="1038.3" cy="416.5" r="4.17"/><circle cx="1042.0" cy="419.8" r="4.17"/><circle cx="1045.2" cy="415.4" r="4.17"/><circle cx="1047.4" cy="408.3" r="4.17"/><circle cx="1052.8" cy="406.7" r="4.17"/><circle cx="1055.0" cy="413.3" r="4.17"/><circle cx="1058.3" cy="411.1" r="4.17"/><circle cx="1073.5" cy="393.7" r="4.17"/><circle cx="1077.8" cy="388.3" r="4.17"/><circle cx="1081.1" cy="379.6" r="4.17"/><circle cx="1083.3" cy="371.5" r="4.17"/><circle cx="1086.5" cy="364.3" r="4.17"/><circle cx="1089.8" cy="357.8" r="4.17"/><circle cx="1094.1" cy="352.4" r="4.17"/><circle cx="1099.6" cy="353.5" r="4.17"/><circle cx="1106.1" cy="353.5" r="4.17"/><circle cx="1110.4" cy="348.0" r="4.17"/><circle cx="1117.0" cy="345.9" r="4.17"/><circle cx="1119.3" cy="372.4" r="4.17"/><circle cx="1123.7" cy="380.0" r="4.17"/><circle cx="1166.1" cy="366.5" r="4.17"/><circle cx="1170.4" cy="365.9" r="4.17"/><circle cx="1172.6" cy="374.6" r="4.17"/><circle cx="1174.8" cy="380.0" r="4.17"/><circle cx="1175.9" cy="386.5" r="4.17"/><circle cx="1183.5" cy="367.0" r="4.17"/><circle cx="1185.2" cy="372.4" r="4.17"/><circle cx="1186.7" cy="378.9" r="4.17"/><circle cx="1190.0" cy="385.4" r="4.17"/><circle cx="1195.4" cy="386.5" r="4.17"/><circle cx="1127.6" cy="336.1" r="4.17"/><circle cx="1124.3" cy="339.3" r="4.17"/><circle cx="1120.0" cy="342.6" r="4.17"/><circle cx="1123.3" cy="349.1" r="4.17"/><circle cx="1123.3" cy="357.4" r="4.17"/><circle cx="1130.9" cy="342.6" r="4.17"/><circle cx="1135.2" cy="348.7" r="4.17"/><circle cx="1141.7" cy="342.6" r="4.17"/><circle cx="1146.1" cy="349.1" r="4.17"/><circle cx="1120.0" cy="399.1" r="4.17"/><circle cx="1124.3" cy="402.4" r="4.17"/><circle cx="1128.7" cy="406.3" r="4.17"/><circle cx="1130.9" cy="414.3" r="4.17"/><circle cx="1134.8" cy="421.5" r="4.17"/><circle cx="1138.5" cy="425.2" r="4.17"/><circle cx="1144.3" cy="436.1" r="4.17"/><circle cx="1149.3" cy="439.3" r="4.17"/><circle cx="1155.9" cy="441.5" r="4.17"/><circle cx="1160.2" cy="447.0" r="4.17"/><circle cx="1164.6" cy="447.4" r="4.17"/><circle cx="1166.7" cy="448.0" r="4.17"/><circle cx="1169.6" cy="455.2" r="4.17"/><circle cx="1173.3" cy="464.3" r="4.17"/><circle cx="1132.0" cy="387.2" r="4.17"/><circle cx="1138.5" cy="392.6" r="4.17"/><circle cx="1146.1" cy="400.2" r="4.17"/><circle cx="1152.6" cy="403.5" r="4.17"/><circle cx="1158.0" cy="409.6" r="4.17"/><circle cx="1163.5" cy="418.0" r="4.17"/><circle cx="1168.3" cy="429.1" r="4.17"/><circle cx="1173.3" cy="436.1" r="4.17"/><circle cx="1180.4" cy="444.3" r="4.17"/><circle cx="1185.2" cy="450.2" r="4.17"/><circle cx="1192.4" cy="456.1" r="4.17"/><circle cx="1198.3" cy="460.0" r="4.17"/><circle cx="1214.6" cy="418.0" r="4.17"/><circle cx="1219.3" cy="428.5" r="4.17"/><circle cx="1225.4" cy="438.3" r="4.17"/><circle cx="1230.4" cy="456.1" r="4.17"/><circle cx="1235.2" cy="458.5" r="4.17"/><circle cx="1243.3" cy="454.1" r="4.17"/><circle cx="1251.5" cy="451.3" r="4.17"/><circle cx="1257.4" cy="457.4" r="4.17"/><circle cx="1260.9" cy="470.9" r="4.17"/><circle cx="901.4" cy="516.6" r="4.17"/><circle cx="902.1" cy="515.2" r="4.17"/><circle cx="902.5" cy="514.4" r="4.17"/><circle cx="905.4" cy="510.3" r="4.17"/><circle cx="907.2" cy="507.9" r="4.17"/><circle cx="909.3" cy="506.0" r="4.17"/><circle cx="910.3" cy="505.1" r="4.17"/><circle cx="911.7" cy="502.2" r="4.17"/><circle cx="913.7" cy="501.1" r="4.17"/><circle cx="916.7" cy="498.0" r="4.17"/><circle cx="918.9" cy="496.5" r="4.17"/><circle cx="920.8" cy="493.0" r="4.17"/><circle cx="921.2" cy="493.2" r="4.17"/><circle cx="923.8" cy="489.6" r="4.17"/><circle cx="927.2" cy="489.0" r="4.17"/><circle cx="929.8" cy="486.3" r="4.17"/><circle cx="931.6" cy="484.9" r="4.17"/><circle cx="933.8" cy="483.5" r="4.17"/><circle cx="937.0" cy="480.7" r="4.17"/><circle cx="940.6" cy="480.1" r="4.17"/><circle cx="941.9" cy="478.7" r="4.17"/><circle cx="946.8" cy="477.3" r="4.17"/><circle cx="948.9" cy="476.9" r="4.17"/><circle cx="950.6" cy="475.7" r="4.17"/><circle cx="952.7" cy="475.6" r="4.17"/><circle cx="955.3" cy="475.3" r="4.17"/><circle cx="956.5" cy="474.2" r="4.17"/><circle cx="960.4" cy="474.1" r="4.17"/><circle cx="962.2" cy="473.4" r="4.17"/><circle cx="966.2" cy="472.6" r="4.17"/><circle cx="969.2" cy="472.0" r="4.17"/><circle cx="902.3" cy="517.2" r="4.17"/><circle cx="905.4" cy="514.5" r="4.17"/><circle cx="907.6" cy="510.5" r="4.17"/><circle cx="909.6" cy="508.6" r="4.17"/><circle cx="911.8" cy="506.0" r="4.17"/><circle cx="912.9" cy="503.7" r="4.17"/><circle cx="914.9" cy="503.3" r="4.17"/><circle cx="915.9" cy="501.3" r="4.17"/><circle cx="919.5" cy="498.3" r="4.17"/><circle cx="920.5" cy="496.6" r="4.17"/><circle cx="922.9" cy="494.1" r="4.17"/><circle cx="925.7" cy="492.4" r="4.17"/><circle cx="927.8" cy="490.0" r="4.17"/><circle cx="931.4" cy="487.9" r="4.17"/><circle cx="933.1" cy="486.4" r="4.17"/><circle cx="937.4" cy="485.1" r="4.17"/><circle cx="941.0" cy="481.8" r="4.17"/><circle cx="945.2" cy="479.9" r="4.17"/><circle cx="946.4" cy="479.6" r="4.17"/><circle cx="950.3" cy="478.7" r="4.17"/><circle cx="952.9" cy="477.5" r="4.17"/><circle cx="954.9" cy="477.0" r="4.17"/><circle cx="956.5" cy="476.2" r="4.17"/><circle cx="958.8" cy="476.1" r="4.17"/><circle cx="963.3" cy="475.2" r="4.17"/><circle cx="966.0" cy="475.4" r="4.17"/><circle cx="968.6" cy="474.1" r="4.17"/><circle cx="895.8" cy="537.1" r="4.17"/><circle cx="897.6" cy="534.8" r="4.17"/><circle cx="900.0" cy="532.7" r="4.17"/><circle cx="901.1" cy="530.9" r="4.17"/><circle cx="903.6" cy="528.8" r="4.17"/><circle cx="906.3" cy="525.1" r="4.17"/><circle cx="906.8" cy="524.1" r="4.17"/><circle cx="908.2" cy="523.0" r="4.17"/><circle cx="909.7" cy="520.0" r="4.17"/><circle cx="911.7" cy="516.9" r="4.17"/><circle cx="913.5" cy="515.5" r="4.17"/><circle cx="914.5" cy="513.5" r="4.17"/><circle cx="918.0" cy="509.9" r="4.17"/><circle cx="920.0" cy="507.5" r="4.17"/><circle cx="922.8" cy="505.4" r="4.17"/><circle cx="925.1" cy="502.5" r="4.17"/><circle cx="928.2" cy="501.0" r="4.17"/><circle cx="930.4" cy="498.4" r="4.17"/><circle cx="934.7" cy="496.9" r="4.17"/><circle cx="936.7" cy="496.3" r="4.17"/><circle cx="941.0" cy="494.4" r="4.17"/><circle cx="942.4" cy="494.2" r="4.17"/><circle cx="945.9" cy="493.6" r="4.17"/><circle cx="949.5" cy="492.1" r="4.17"/><circle cx="952.2" cy="491.0" r="4.17"/><circle cx="956.3" cy="490.9" r="4.17"/><circle cx="958.9" cy="489.6" r="4.17"/><circle cx="961.7" cy="488.1" r="4.17"/><circle cx="962.3" cy="486.4" r="4.17"/><circle cx="964.9" cy="483.3" r="4.17"/><circle cx="967.7" cy="481.5" r="4.17"/><circle cx="974.8" cy="479.8" r="4.17"/><circle cx="980.6" cy="480.6" r="4.17"/><circle cx="985.7" cy="481.0" r="4.17"/><circle cx="992.4" cy="480.4" r="4.17"/><circle cx="998.6" cy="480.6" r="4.17"/><circle cx="1004.7" cy="479.5" r="4.17"/><circle cx="1008.3" cy="477.9" r="4.17"/><circle cx="1012.8" cy="477.6" r="4.17"/><circle cx="1016.8" cy="479.2" r="4.17"/><circle cx="1019.7" cy="479.9" r="4.17"/><circle cx="1023.3" cy="483.2" r="4.17"/><circle cx="1026.8" cy="484.0" r="4.17"/><circle cx="1031.7" cy="484.3" r="4.17"/><circle cx="1037.8" cy="485.8" r="4.17"/><circle cx="1042.3" cy="487.4" r="4.17"/><circle cx="1260.2" cy="472.2" r="4.17"/><circle cx="1265.2" cy="486.3" r="4.17"/><circle cx="1268.5" cy="496.1" r="4.17"/><circle cx="1271.7" cy="498.3" r="4.17"/><circle cx="1275.4" cy="508.7" r="4.17"/><circle cx="1293.3" cy="518.3" r="4.17"/><circle cx="1302.2" cy="536.7" r="4.17"/><circle cx="1305.4" cy="552.6" r="4.17"/><circle cx="1307.6" cy="566.1" r="4.17"/><circle cx="1324.3" cy="581.3" r="4.17"/><circle cx="1044.0" cy="471.4" r="4.17"/><circle cx="1048.9" cy="472.2" r="4.17"/><circle cx="1053.8" cy="473.8" r="4.17"/><circle cx="1057.1" cy="477.1" r="4.17"/><circle cx="1061.1" cy="481.1" r="4.17"/><circle cx="1065.2" cy="485.2" r="4.17"/><circle cx="1071.7" cy="490.1" r="4.17"/><circle cx="1078.3" cy="490.1" r="4.17"/><circle cx="1083.2" cy="492.6" r="4.17"/><circle cx="1088.0" cy="498.3" r="4.17"/><circle cx="1093.8" cy="504.8" r="4.17"/><circle cx="1099.5" cy="512.9" r="4.17"/><circle cx="1106.0" cy="517.0" r="4.17"/><circle cx="1112.5" cy="517.8" r="4.17"/><circle cx="1119.0" cy="521.1" r="4.17"/><circle cx="1124.7" cy="526.8" r="4.17"/><circle cx="1128.8" cy="527.6" r="4.17"/><circle cx="1121.7" cy="466.7" r="4.17"/><circle cx="1125.5" cy="470.2" r="4.17"/><circle cx="1126.6" cy="472.9" r="4.17"/><circle cx="1128.8" cy="474.9" r="4.17"/><circle cx="1130.8" cy="477.9" r="4.17"/><circle cx="1133.8" cy="478.5" r="4.17"/><circle cx="1135.5" cy="481.6" r="4.17"/><circle cx="1138.5" cy="482.4" r="4.17"/><circle cx="1141.7" cy="485.7" r="4.17"/><circle cx="1146.6" cy="488.5" r="4.17"/><circle cx="1149.8" cy="491.2" r="4.17"/><circle cx="1153.9" cy="493.7" r="4.17"/><circle cx="1155.7" cy="495.0" r="4.17"/><circle cx="1160.6" cy="498.8" r="4.17"/><circle cx="1164.2" cy="502.7" r="4.17"/><circle cx="1165.7" cy="505.1" r="4.17"/><circle cx="1170.0" cy="507.3" r="4.17"/><circle cx="1170.1" cy="509.9" r="4.17"/><circle cx="1175.0" cy="513.7" r="4.17"/><circle cx="1065.2" cy="459.1" r="4.17"/><circle cx="1070.4" cy="459.9" r="4.17"/><circle cx="1074.2" cy="466.5" r="4.17"/><circle cx="1078.3" cy="468.9" r="4.17"/><circle cx="1084.8" cy="472.2" r="4.17"/><circle cx="1091.3" cy="476.3" r="4.17"/><circle cx="1097.8" cy="482.0" r="4.17"/><circle cx="1104.3" cy="488.5" r="4.17"/><circle cx="1110.9" cy="493.4" r="4.17"/><circle cx="1050.5" cy="494.2" r="4.17"/><circle cx="1056.3" cy="490.9" r="4.17"/><circle cx="1063.6" cy="501.5" r="4.17"/><circle cx="1069.3" cy="506.4" r="4.17"/><circle cx="1076.3" cy="510.5" r="4.17"/><circle cx="1083.2" cy="515.4" r="4.17"/><circle cx="1090.5" cy="517.8" r="4.17"/><circle cx="1096.2" cy="524.3" r="4.17"/><circle cx="1101.9" cy="526.8" r="4.17"/><circle cx="1107.6" cy="526.8" r="4.17"/><circle cx="1113.3" cy="526.8" r="4.17"/><circle cx="1119.0" cy="534.9" r="4.17"/><circle cx="1125.5" cy="537.4" r="4.17"/><circle cx="1132.1" cy="534.1" r="4.17"/><circle cx="1138.6" cy="532.5" r="4.17"/><circle cx="1145.1" cy="533.3" r="4.17"/><circle cx="1150.0" cy="524.3" r="4.17"/><circle cx="1157.3" cy="529.2" r="4.17"/><circle cx="1164.7" cy="532.5" r="4.17"/><circle cx="1171.2" cy="534.1" r="4.17"/><circle cx="969.3" cy="467.0" r="4.17"/><circle cx="974.2" cy="465.9" r="4.17"/><circle cx="977.5" cy="465.2" r="4.17"/><circle cx="983.3" cy="463.4" r="4.17"/><circle cx="986.0" cy="465.0" r="4.17"/><circle cx="986.1" cy="464.0" r="4.17"/><circle cx="991.8" cy="463.3" r="4.17"/><circle cx="995.4" cy="462.2" r="4.17"/><circle cx="998.5" cy="460.4" r="4.17"/><circle cx="1003.3" cy="460.9" r="4.17"/><circle cx="1007.1" cy="461.3" r="4.17"/><circle cx="1008.8" cy="460.9" r="4.17"/><circle cx="1014.1" cy="460.0" r="4.17"/><circle cx="1019.0" cy="458.4" r="4.17"/><circle cx="1021.0" cy="459.5" r="4.17"/><circle cx="1022.9" cy="459.8" r="4.17"/><circle cx="1028.2" cy="459.2" r="4.17"/><circle cx="1030.4" cy="459.9" r="4.17"/><circle cx="1034.3" cy="459.5" r="4.17"/><circle cx="1037.4" cy="460.3" r="4.17"/><circle cx="1043.3" cy="458.9" r="4.17"/><circle cx="1046.1" cy="458.2" r="4.17"/><circle cx="1050.0" cy="460.6" r="4.17"/><circle cx="1052.8" cy="461.0" r="4.17"/><circle cx="1055.6" cy="460.5" r="4.17"/><circle cx="1059.0" cy="462.3" r="4.17"/><circle cx="1062.2" cy="461.4" r="4.17"/><circle cx="1064.3" cy="462.7" r="4.17"/><circle cx="1068.7" cy="463.8" r="4.17"/><circle cx="1072.6" cy="464.9" r="4.17"/><circle cx="1073.6" cy="465.7" r="4.17"/><circle cx="1078.6" cy="467.4" r="4.17"/><circle cx="1082.3" cy="470.1" r="4.17"/><circle cx="1086.9" cy="470.1" r="4.17"/><circle cx="1089.1" cy="472.3" r="4.17"/><circle cx="1093.1" cy="471.2" r="4.17"/><circle cx="1095.8" cy="470.7" r="4.17"/><circle cx="1098.2" cy="468.2" r="4.17"/><circle cx="1100.4" cy="468.5" r="4.17"/><circle cx="1106.2" cy="471.3" r="4.17"/><circle cx="1109.5" cy="474.3" r="4.17"/><circle cx="1112.2" cy="476.4" r="4.17"/><circle cx="1111.9" cy="478.5" r="4.17"/><circle cx="1115.5" cy="479.2" r="4.17"/><circle cx="1117.2" cy="481.6" r="4.17"/><circle cx="1123.5" cy="482.1" r="4.17"/><circle cx="1126.8" cy="480.1" r="4.17"/><circle cx="1129.5" cy="479.9" r="4.17"/><circle cx="1133.8" cy="479.9" r="4.17"/><circle cx="1137.7" cy="479.4" r="4.17"/><circle cx="1140.7" cy="481.8" r="4.17"/><circle cx="1145.3" cy="481.5" r="4.17"/><circle cx="1150.0" cy="482.0" r="4.17"/><circle cx="1151.0" cy="482.2" r="4.17"/><circle cx="1153.8" cy="485.9" r="4.17"/><circle cx="1157.4" cy="485.7" r="4.17"/><circle cx="1158.6" cy="487.2" r="4.17"/><circle cx="1162.1" cy="489.5" r="4.17"/><circle cx="1166.5" cy="492.1" r="4.17"/><circle cx="1169.1" cy="492.9" r="4.17"/><circle cx="1175.6" cy="495.9" r="4.17"/><circle cx="1177.3" cy="497.8" r="4.17"/><circle cx="1180.5" cy="500.6" r="4.17"/><circle cx="1185.5" cy="504.2" r="4.17"/><circle cx="1188.6" cy="505.1" r="4.17"/><circle cx="1191.2" cy="508.3" r="4.17"/><circle cx="1194.3" cy="510.4" r="4.17"/><circle cx="1197.1" cy="513.0" r="4.17"/><circle cx="974.1" cy="473.8" r="4.17"/><circle cx="979.5" cy="470.7" r="4.17"/><circle cx="982.9" cy="470.4" r="4.17"/><circle cx="989.6" cy="469.0" r="4.17"/><circle cx="996.0" cy="468.2" r="4.17"/><circle cx="1002.2" cy="467.7" r="4.17"/><circle cx="1004.9" cy="465.3" r="4.17"/><circle cx="1007.6" cy="466.0" r="4.17"/><circle cx="1011.6" cy="466.4" r="4.17"/><circle cx="1020.3" cy="463.7" r="4.17"/><circle cx="1025.0" cy="463.9" r="4.17"/><circle cx="1029.4" cy="465.1" r="4.17"/><circle cx="1033.3" cy="463.9" r="4.17"/><circle cx="1042.0" cy="464.7" r="4.17"/><circle cx="1043.5" cy="467.3" r="4.17"/><circle cx="1049.7" cy="466.6" r="4.17"/><circle cx="1053.2" cy="465.9" r="4.17"/><circle cx="1058.0" cy="466.9" r="4.17"/><circle cx="1063.2" cy="469.5" r="4.17"/><circle cx="1069.3" cy="469.4" r="4.17"/><circle cx="1075.3" cy="473.2" r="4.17"/><circle cx="1082.6" cy="473.3" r="4.17"/><circle cx="1091.0" cy="477.3" r="4.17"/><circle cx="1090.8" cy="475.7" r="4.17"/><circle cx="1096.8" cy="474.6" r="4.17"/><circle cx="1102.4" cy="474.0" r="4.17"/><circle cx="1105.9" cy="475.2" r="4.17"/><circle cx="1111.8" cy="480.7" r="4.17"/><circle cx="1115.8" cy="484.0" r="4.17"/><circle cx="1120.8" cy="487.5" r="4.17"/><circle cx="1123.1" cy="485.1" r="4.17"/><circle cx="1130.0" cy="488.5" r="4.17"/><circle cx="1135.3" cy="485.2" r="4.17"/><circle cx="1142.2" cy="488.8" r="4.17"/><circle cx="1151.2" cy="487.4" r="4.17"/><circle cx="1153.3" cy="488.6" r="4.17"/><circle cx="1158.4" cy="494.4" r="4.17"/><circle cx="1162.4" cy="493.3" r="4.17"/><circle cx="1162.0" cy="494.3" r="4.17"/><circle cx="1170.1" cy="499.6" r="4.17"/><circle cx="1173.6" cy="500.2" r="4.17"/><circle cx="1176.5" cy="502.0" r="4.17"/><circle cx="1178.6" cy="504.0" r="4.17"/><circle cx="1183.7" cy="506.1" r="4.17"/><circle cx="1187.2" cy="510.4" r="4.17"/><circle cx="1187.9" cy="510.6" r="4.17"/><circle cx="1192.7" cy="513.3" r="4.17"/><circle cx="1198.1" cy="517.7" r="4.17"/><circle cx="1201.3" cy="520.0" r="4.17"/><circle cx="1000.0" cy="478.7" r="4.17"/><circle cx="1006.5" cy="480.3" r="4.17"/><circle cx="1011.4" cy="476.3" r="4.17"/><circle cx="1016.3" cy="478.7" r="4.17"/><circle cx="1022.8" cy="482.0" r="4.17"/><circle cx="1028.5" cy="485.2" r="4.17"/><circle cx="1035.4" cy="484.1" r="4.17"/><circle cx="1039.9" cy="490.1" r="4.17"/><circle cx="1175.3" cy="485.2" r="4.17"/><circle cx="1179.3" cy="477.1" r="4.17"/><circle cx="1147.6" cy="478.7" r="4.17"/><circle cx="1132.1" cy="470.5" r="4.17"/><circle cx="1215.8" cy="470.2" r="4.17"/><circle cx="1217.4" cy="472.2" r="4.17"/><circle cx="1220.7" cy="472.5" r="4.17"/><circle cx="1227.2" cy="479.0" r="4.17"/><circle cx="1228.3" cy="490.6" r="4.17"/><circle cx="1225.3" cy="492.5" r="4.17"/><circle cx="1230.2" cy="494.4" r="4.17"/><circle cx="1229.4" cy="497.5" r="4.17"/><circle cx="1240.2" cy="503.1" r="4.17"/><circle cx="1241.8" cy="501.6" r="4.17"/><circle cx="1242.9" cy="503.9" r="4.17"/><circle cx="1244.8" cy="509.4" r="4.17"/><circle cx="1242.0" cy="513.6" r="4.17"/><circle cx="1250.6" cy="517.6" r="4.17"/><circle cx="1253.1" cy="528.5" r="4.17"/><circle cx="1258.1" cy="523.3" r="4.17"/><circle cx="1253.1" cy="529.5" r="4.17"/><circle cx="1262.5" cy="533.4" r="4.17"/><circle cx="1266.9" cy="541.7" r="4.17"/><circle cx="1271.4" cy="543.7" r="4.17"/><circle cx="1269.5" cy="549.8" r="4.17"/><circle cx="1271.1" cy="549.3" r="4.17"/><circle cx="1272.6" cy="552.6" r="4.17"/><circle cx="1281.5" cy="556.8" r="4.17"/><circle cx="1279.2" cy="558.2" r="4.17"/><circle cx="1282.8" cy="567.6" r="4.17"/><circle cx="1291.4" cy="567.5" r="4.17"/><circle cx="1290.5" cy="568.9" r="4.17"/><circle cx="1295.9" cy="572.8" r="4.17"/><circle cx="1296.4" cy="577.6" r="4.17"/><circle cx="1296.7" cy="579.1" r="4.17"/><circle cx="1301.3" cy="586.5" r="4.17"/><circle cx="1303.2" cy="588.5" r="4.17"/><circle cx="1307.8" cy="595.7" r="4.17"/><circle cx="1305.1" cy="594.0" r="4.17"/><circle cx="1311.6" cy="599.5" r="4.17"/><circle cx="1312.1" cy="602.5" r="4.17"/><circle cx="1314.4" cy="605.5" r="4.17"/><circle cx="1318.2" cy="613.1" r="4.17"/><circle cx="1319.2" cy="614.0" r="4.17"/><circle cx="1320.8" cy="614.7" r="4.17"/><circle cx="1321.5" cy="619.4" r="4.17"/><circle cx="1322.6" cy="622.2" r="4.17"/><circle cx="1327.1" cy="626.2" r="4.17"/><circle cx="1329.5" cy="631.5" r="4.17"/><circle cx="1330.0" cy="632.1" r="4.17"/><circle cx="1329.6" cy="631.5" r="4.17"/><circle cx="1332.5" cy="635.2" r="4.17"/><circle cx="1334.7" cy="637.9" r="4.17"/><circle cx="1335.9" cy="637.6" r="4.17"/><circle cx="1337.7" cy="640.1" r="4.17"/><circle cx="1337.6" cy="642.8" r="4.17"/><circle cx="1213.0" cy="471.1" r="4.17"/><circle cx="1218.0" cy="478.7" r="4.17"/><circle cx="1223.0" cy="476.4" r="4.17"/><circle cx="1224.3" cy="479.7" r="4.17"/><circle cx="1226.8" cy="487.2" r="4.17"/><circle cx="1229.9" cy="491.4" r="4.17"/><circle cx="1237.5" cy="492.9" r="4.17"/><circle cx="1234.2" cy="500.4" r="4.17"/><circle cx="1239.2" cy="499.4" r="4.17"/><circle cx="1241.8" cy="507.5" r="4.17"/><circle cx="1240.8" cy="513.1" r="4.17"/><circle cx="1247.2" cy="516.5" r="4.17"/><circle cx="1257.6" cy="521.2" r="4.17"/><circle cx="1254.1" cy="521.2" r="4.17"/><circle cx="1257.5" cy="524.6" r="4.17"/><circle cx="1267.2" cy="533.1" r="4.17"/><circle cx="1265.5" cy="537.3" r="4.17"/><circle cx="1269.8" cy="543.3" r="4.17"/><circle cx="1271.7" cy="542.3" r="4.17"/><circle cx="1279.2" cy="547.1" r="4.17"/><circle cx="1282.8" cy="552.4" r="4.17"/><circle cx="1276.5" cy="556.6" r="4.17"/><circle cx="1286.2" cy="563.4" r="4.17"/><circle cx="1290.7" cy="565.4" r="4.17"/><circle cx="1291.1" cy="572.7" r="4.17"/><circle cx="1295.5" cy="569.8" r="4.17"/><circle cx="1297.0" cy="576.9" r="4.17"/><circle cx="1300.7" cy="578.5" r="4.17"/><circle cx="1298.7" cy="584.4" r="4.17"/><circle cx="1304.3" cy="586.8" r="4.17"/><circle cx="1307.5" cy="589.7" r="4.17"/><circle cx="1310.2" cy="593.0" r="4.17"/><circle cx="1308.7" cy="598.4" r="4.17"/><circle cx="1311.8" cy="601.8" r="4.17"/><circle cx="1312.5" cy="599.2" r="4.17"/><circle cx="1314.7" cy="602.3" r="4.17"/><circle cx="1312.6" cy="608.4" r="4.17"/><circle cx="1319.0" cy="609.1" r="4.17"/><circle cx="1314.4" cy="615.2" r="4.17"/><circle cx="1322.4" cy="618.4" r="4.17"/><circle cx="1323.1" cy="622.6" r="4.17"/><circle cx="1324.9" cy="621.7" r="4.17"/><circle cx="1325.3" cy="625.2" r="4.17"/><circle cx="1327.2" cy="628.8" r="4.17"/><circle cx="1328.5" cy="630.4" r="4.17"/><circle cx="1331.5" cy="633.4" r="4.17"/><circle cx="1332.1" cy="635.1" r="4.17"/><circle cx="1332.5" cy="636.1" r="4.17"/><circle cx="1335.4" cy="640.3" r="4.17"/><circle cx="1337.4" cy="641.0" r="4.17"/><circle cx="1217.0" cy="466.3" r="4.17"/><circle cx="1221.1" cy="469.6" r="4.17"/><circle cx="1227.5" cy="486.4" r="4.17"/><circle cx="1222.9" cy="486.5" r="4.17"/><circle cx="1227.6" cy="495.5" r="4.17"/><circle cx="1238.1" cy="500.6" r="4.17"/><circle cx="1241.8" cy="508.7" r="4.17"/><circle cx="1243.9" cy="510.2" r="4.17"/><circle cx="1248.3" cy="517.1" r="4.17"/><circle cx="1247.5" cy="519.9" r="4.17"/><circle cx="1261.6" cy="528.9" r="4.17"/><circle cx="1255.4" cy="529.6" r="4.17"/><circle cx="1263.0" cy="530.2" r="4.17"/><circle cx="1263.8" cy="535.3" r="4.17"/><circle cx="1269.8" cy="540.2" r="4.17"/><circle cx="1273.9" cy="541.5" r="4.17"/><circle cx="1272.7" cy="541.6" r="4.17"/><circle cx="1277.8" cy="552.8" r="4.17"/><circle cx="1279.9" cy="558.2" r="4.17"/><circle cx="1285.3" cy="558.4" r="4.17"/><circle cx="1284.0" cy="555.9" r="4.17"/><circle cx="1288.3" cy="566.8" r="4.17"/><circle cx="1289.2" cy="566.6" r="4.17"/><circle cx="1296.6" cy="570.6" r="4.17"/><circle cx="1293.4" cy="573.7" r="4.17"/><circle cx="1295.6" cy="578.8" r="4.17"/><circle cx="1300.5" cy="582.9" r="4.17"/><circle cx="1304.4" cy="584.3" r="4.17"/><circle cx="1304.1" cy="586.3" r="4.17"/><circle cx="1306.5" cy="592.3" r="4.17"/><circle cx="1310.0" cy="594.7" r="4.17"/><circle cx="1309.6" cy="596.8" r="4.17"/><circle cx="1311.4" cy="601.8" r="4.17"/><circle cx="1312.9" cy="603.6" r="4.17"/><circle cx="1316.1" cy="606.2" r="4.17"/><circle cx="1314.2" cy="609.6" r="4.17"/><circle cx="1319.6" cy="612.6" r="4.17"/><circle cx="1319.6" cy="612.5" r="4.17"/><circle cx="1321.5" cy="615.7" r="4.17"/><circle cx="1322.9" cy="619.5" r="4.17"/><circle cx="1325.3" cy="622.2" r="4.17"/><circle cx="1327.4" cy="624.8" r="4.17"/><circle cx="1326.8" cy="628.1" r="4.17"/><circle cx="1326.1" cy="629.2" r="4.17"/><circle cx="1329.0" cy="630.4" r="4.17"/><circle cx="1328.3" cy="632.2" r="4.17"/><circle cx="1329.7" cy="632.6" r="4.17"/><circle cx="1332.7" cy="637.2" r="4.17"/><circle cx="1335.0" cy="637.7" r="4.17"/><circle cx="1337.1" cy="640.3" r="4.17"/><circle cx="1218.1" cy="472.9" r="4.17"/><circle cx="1223.5" cy="475.0" r="4.17"/><circle cx="1221.5" cy="485.0" r="4.17"/><circle cx="1232.5" cy="487.2" r="4.17"/><circle cx="1235.1" cy="492.0" r="4.17"/><circle cx="1231.2" cy="496.6" r="4.17"/><circle cx="1234.4" cy="497.0" r="4.17"/><circle cx="1244.8" cy="503.1" r="4.17"/><circle cx="1245.1" cy="509.0" r="4.17"/><circle cx="1245.7" cy="510.4" r="4.17"/><circle cx="1251.0" cy="518.8" r="4.17"/><circle cx="1246.9" cy="525.4" r="4.17"/><circle cx="1255.9" cy="528.1" r="4.17"/><circle cx="1258.6" cy="527.3" r="4.17"/><circle cx="1264.1" cy="533.0" r="4.17"/><circle cx="1264.6" cy="536.7" r="4.17"/><circle cx="1268.8" cy="539.1" r="4.17"/><circle cx="1269.4" cy="541.9" r="4.17"/><circle cx="1268.1" cy="543.8" r="4.17"/><circle cx="1273.7" cy="546.2" r="4.17"/><circle cx="1279.9" cy="554.5" r="4.17"/><circle cx="1286.4" cy="555.0" r="4.17"/><circle cx="1284.7" cy="560.1" r="4.17"/><circle cx="1288.2" cy="563.1" r="4.17"/><circle cx="1286.1" cy="566.7" r="4.17"/><circle cx="1292.2" cy="573.5" r="4.17"/><circle cx="1294.1" cy="576.9" r="4.17"/><circle cx="1298.4" cy="581.0" r="4.17"/><circle cx="1302.2" cy="584.8" r="4.17"/><circle cx="1303.0" cy="589.9" r="4.17"/><circle cx="1306.7" cy="592.4" r="4.17"/><circle cx="1307.0" cy="591.2" r="4.17"/><circle cx="1309.3" cy="600.0" r="4.17"/><circle cx="1314.2" cy="599.8" r="4.17"/><circle cx="1314.8" cy="606.6" r="4.17"/><circle cx="1316.5" cy="608.4" r="4.17"/><circle cx="1315.8" cy="611.2" r="4.17"/><circle cx="1320.7" cy="614.9" r="4.17"/><circle cx="1321.2" cy="615.7" r="4.17"/><circle cx="1323.6" cy="620.1" r="4.17"/><circle cx="1323.0" cy="622.1" r="4.17"/><circle cx="1326.4" cy="627.8" r="4.17"/><circle cx="1328.1" cy="630.7" r="4.17"/><circle cx="1331.0" cy="633.7" r="4.17"/><circle cx="1329.8" cy="634.5" r="4.17"/><circle cx="1332.6" cy="637.8" r="4.17"/><circle cx="1333.0" cy="639.2" r="4.17"/><circle cx="1334.9" cy="638.9" r="4.17"/><circle cx="1339.5" cy="640.5" r="4.17"/><circle cx="1119.0" cy="476.0" r="4.17"/><circle cx="1125.2" cy="476.8" r="4.17"/><circle cx="1130.3" cy="480.7" r="4.17"/><circle cx="1131.1" cy="481.7" r="4.17"/><circle cx="1137.1" cy="483.9" r="4.17"/><circle cx="1144.2" cy="488.5" r="4.17"/><circle cx="1144.3" cy="489.7" r="4.17"/><circle cx="1148.1" cy="491.5" r="4.17"/><circle cx="1151.1" cy="494.5" r="4.17"/><circle cx="1154.9" cy="498.5" r="4.17"/><circle cx="1160.3" cy="503.4" r="4.17"/><circle cx="1163.7" cy="504.2" r="4.17"/><circle cx="1163.8" cy="508.5" r="4.17"/><circle cx="1166.1" cy="510.4" r="4.17"/><circle cx="1170.2" cy="515.0" r="4.17"/><circle cx="1173.3" cy="519.4" r="4.17"/><circle cx="1175.2" cy="520.7" r="4.17"/><circle cx="1179.1" cy="524.3" r="4.17"/><circle cx="1183.4" cy="524.8" r="4.17"/><circle cx="1185.8" cy="526.1" r="4.17"/><circle cx="1189.8" cy="529.1" r="4.17"/><circle cx="1194.7" cy="531.0" r="4.17"/><circle cx="1197.3" cy="534.5" r="4.17"/><circle cx="1198.0" cy="534.7" r="4.17"/><circle cx="1204.5" cy="537.3" r="4.17"/><circle cx="1205.2" cy="538.5" r="4.17"/><circle cx="1210.3" cy="539.8" r="4.17"/><circle cx="1212.4" cy="540.9" r="4.17"/><circle cx="1215.2" cy="542.8" r="4.17"/><circle cx="1219.6" cy="540.6" r="4.17"/><circle cx="1223.1" cy="546.6" r="4.17"/><circle cx="1228.8" cy="549.0" r="4.17"/><circle cx="1232.7" cy="550.8" r="4.17"/><circle cx="1234.3" cy="552.0" r="4.17"/><circle cx="1238.6" cy="553.5" r="4.17"/><circle cx="1239.9" cy="556.0" r="4.17"/><circle cx="1243.4" cy="557.1" r="4.17"/><circle cx="1248.2" cy="557.9" r="4.17"/><circle cx="1252.6" cy="558.7" r="4.17"/><circle cx="1254.5" cy="557.8" r="4.17"/><circle cx="1258.1" cy="561.0" r="4.17"/><circle cx="1262.3" cy="561.1" r="4.17"/><circle cx="1265.2" cy="562.8" r="4.17"/><circle cx="1265.7" cy="565.9" r="4.17"/><circle cx="1269.1" cy="565.9" r="4.17"/><circle cx="1273.4" cy="571.4" r="4.17"/><circle cx="1278.0" cy="574.6" r="4.17"/><circle cx="1280.4" cy="576.0" r="4.17"/><circle cx="1283.8" cy="580.2" r="4.17"/><circle cx="1286.0" cy="581.5" r="4.17"/><circle cx="1287.0" cy="581.4" r="4.17"/><circle cx="1291.8" cy="584.6" r="4.17"/><circle cx="1292.4" cy="587.7" r="4.17"/><circle cx="1296.8" cy="590.6" r="4.17"/><circle cx="1300.0" cy="592.3" r="4.17"/><circle cx="1306.2" cy="596.7" r="4.17"/><circle cx="1305.9" cy="599.5" r="4.17"/><circle cx="1310.8" cy="603.7" r="4.17"/><circle cx="1313.7" cy="604.9" r="4.17"/><circle cx="1315.3" cy="607.5" r="4.17"/><circle cx="1320.2" cy="612.6" r="4.17"/><circle cx="1323.5" cy="617.8" r="4.17"/><circle cx="1326.5" cy="619.2" r="4.17"/><circle cx="1120.0" cy="522.2" r="4.17"/><circle cx="1126.5" cy="527.6" r="4.17"/><circle cx="1133.0" cy="533.0" r="4.17"/><circle cx="1139.6" cy="535.2" r="4.17"/><circle cx="1146.1" cy="537.4" r="4.17"/><circle cx="1152.6" cy="540.7" r="4.17"/><circle cx="1159.1" cy="545.0" r="4.17"/><circle cx="1165.7" cy="541.7" r="4.17"/><circle cx="1172.2" cy="540.7" r="4.17"/><circle cx="1178.7" cy="543.9" r="4.17"/><circle cx="1185.2" cy="545.0" r="4.17"/><circle cx="1175.4" cy="485.2" r="4.17"/><circle cx="1169.6" cy="492.8" r="4.17"/><circle cx="1190.7" cy="482.0" r="4.17"/><circle cx="1189.6" cy="488.5" r="4.17"/><circle cx="1195.0" cy="491.7" r="4.17"/><circle cx="1201.5" cy="491.7" r="4.17"/><circle cx="1205.9" cy="496.1" r="4.17"/><circle cx="1210.2" cy="503.7" r="4.17"/><circle cx="1214.6" cy="502.6" r="4.17"/><circle cx="1219.6" cy="508.0" r="4.17"/><circle cx="1224.3" cy="514.6" r="4.17"/><circle cx="1228.0" cy="521.5" r="4.17"/><circle cx="1232.4" cy="532.0" r="4.17"/><circle cx="1236.3" cy="537.4" r="4.17"/><circle cx="1238.5" cy="545.0" r="4.17"/><circle cx="1243.5" cy="550.4" r="4.17"/><circle cx="1250.4" cy="552.2" r="4.17"/><circle cx="1255.9" cy="553.7" r="4.17"/><circle cx="1189.6" cy="523.3" r="4.17"/><circle cx="1195.0" cy="523.3" r="4.17"/><circle cx="1199.3" cy="526.5" r="4.17"/><circle cx="1204.3" cy="521.1" r="4.17"/><circle cx="1207.0" cy="528.7" r="4.17"/><circle cx="1212.4" cy="535.2" r="4.17"/><circle cx="1215.7" cy="540.7" r="4.17"/><circle cx="1223.3" cy="540.0" r="4.17"/><circle cx="1228.7" cy="547.2" r="4.17"/><circle cx="1228.7" cy="583.0" r="4.17"/><circle cx="1233.0" cy="586.3" r="4.17"/><circle cx="1238.5" cy="587.4" r="4.17"/><circle cx="1246.1" cy="577.6" r="4.17"/><circle cx="1250.4" cy="583.0" r="4.17"/><circle cx="1246.1" cy="593.9" r="4.17"/><circle cx="1250.4" cy="592.8" r="4.17"/><circle cx="1257.0" cy="590.7" r="4.17"/><circle cx="1252.6" cy="600.4" r="4.17"/><circle cx="1255.9" cy="605.9" r="4.17"/><circle cx="1260.2" cy="609.1" r="4.17"/><circle cx="1264.6" cy="600.4" r="4.17"/><circle cx="1270.0" cy="598.3" r="4.17"/><circle cx="1273.3" cy="608.0" r="4.17"/><circle cx="1276.5" cy="600.4" r="4.17"/><circle cx="1282.0" cy="602.6" r="4.17"/><circle cx="1287.4" cy="609.1" r="4.17"/><circle cx="1293.9" cy="615.7" r="4.17"/><circle cx="1293.9" cy="621.1" r="4.17"/><circle cx="1300.4" cy="620.0" r="4.17"/><circle cx="1304.8" cy="623.3" r="4.17"/><circle cx="1311.3" cy="625.4" r="4.17"/><circle cx="1242.2" cy="563.1" r="4.17"/><circle cx="1243.0" cy="566.0" r="4.17"/><circle cx="1247.8" cy="565.0" r="4.17"/><circle cx="1251.3" cy="567.4" r="4.17"/><circle cx="1254.5" cy="569.6" r="4.17"/><circle cx="1262.9" cy="573.7" r="4.17"/><circle cx="1265.4" cy="575.2" r="4.17"/><circle cx="1268.8" cy="577.3" r="4.17"/><circle cx="1270.3" cy="578.3" r="4.17"/><circle cx="1274.7" cy="581.9" r="4.17"/><circle cx="1275.5" cy="581.8" r="4.17"/><circle cx="1280.7" cy="585.0" r="4.17"/><circle cx="1280.6" cy="589.6" r="4.17"/><circle cx="1286.3" cy="587.5" r="4.17"/><circle cx="1287.9" cy="592.3" r="4.17"/><circle cx="1292.8" cy="593.9" r="4.17"/><circle cx="1293.7" cy="597.0" r="4.17"/><circle cx="1295.0" cy="598.2" r="4.17"/><circle cx="1299.7" cy="604.9" r="4.17"/><circle cx="1301.1" cy="604.1" r="4.17"/><circle cx="1305.0" cy="606.8" r="4.17"/><circle cx="1308.4" cy="609.9" r="4.17"/><circle cx="1310.2" cy="612.0" r="4.17"/><circle cx="1314.3" cy="617.8" r="4.17"/><circle cx="1315.9" cy="617.8" r="4.17"/><circle cx="1316.8" cy="619.4" r="4.17"/><circle cx="1319.7" cy="620.6" r="4.17"/><circle cx="1323.0" cy="628.0" r="4.17"/><circle cx="1324.2" cy="626.0" r="4.17"/><circle cx="1327.5" cy="629.1" r="4.17"/><circle cx="1331.1" cy="630.9" r="4.17"/><circle cx="1258.4" cy="590.1" r="4.17"/><circle cx="1263.1" cy="594.1" r="4.17"/><circle cx="1262.8" cy="597.4" r="4.17"/><circle cx="1269.6" cy="600.2" r="4.17"/><circle cx="1270.7" cy="599.6" r="4.17"/><circle cx="1274.9" cy="603.6" r="4.17"/><circle cx="1277.2" cy="606.4" r="4.17"/><circle cx="1278.1" cy="605.1" r="4.17"/><circle cx="1283.8" cy="610.4" r="4.17"/><circle cx="1286.1" cy="614.4" r="4.17"/><circle cx="1292.4" cy="616.0" r="4.17"/><circle cx="1298.1" cy="616.9" r="4.17"/><circle cx="1297.4" cy="619.3" r="4.17"/><circle cx="1299.6" cy="618.8" r="4.17"/><circle cx="1301.1" cy="621.2" r="4.17"/><circle cx="1306.7" cy="624.9" r="4.17"/><circle cx="1311.1" cy="629.9" r="4.17"/><circle cx="1314.8" cy="628.5" r="4.17"/><circle cx="1314.9" cy="634.6" r="4.17"/><circle cx="1321.1" cy="632.0" r="4.17"/><circle cx="1205.7" cy="462.0" r="4.17"/><circle cx="1207.3" cy="468.5" r="4.17"/><circle cx="1210.5" cy="473.4" r="4.17"/><circle cx="1204.0" cy="470.1" r="4.17"/><circle cx="1208.9" cy="475.0" r="4.17"/><circle cx="1160.0" cy="444.0" r="4.17"/><circle cx="1164.9" cy="448.1" r="4.17"/><circle cx="1169.8" cy="454.6" r="4.17"/><circle cx="1172.2" cy="465.2" r="4.17"/><circle cx="1176.3" cy="470.1" r="4.17"/><circle cx="1181.2" cy="476.6" r="4.17"/><circle cx="1185.3" cy="478.3" r="4.17"/><circle cx="1192.6" cy="482.3" r="4.17"/><circle cx="1189.3" cy="488.0" r="4.17"/><circle cx="1194.2" cy="492.1" r="4.17"/><circle cx="1199.1" cy="491.3" r="4.17"/><circle cx="1204.0" cy="492.9" r="4.17"/><circle cx="1205.7" cy="488.9" r="4.17"/><circle cx="1204.8" cy="497.0" r="4.17"/><circle cx="1175.5" cy="485.3" r="4.17"/><circle cx="1169.8" cy="493.3" r="4.17"/><circle cx="1161.6" cy="492.9" r="4.17"/><circle cx="1164.9" cy="501.1" r="4.17"/><circle cx="1168.2" cy="507.6" r="4.17"/><circle cx="1173.0" cy="512.5" r="4.17"/><circle cx="1177.9" cy="517.4" r="4.17"/><circle cx="1217.9" cy="492.1" r="4.17"/><circle cx="1222.8" cy="497.8" r="4.17"/><circle cx="1210.5" cy="504.3" r="4.17"/><circle cx="1214.6" cy="503.0" r="4.17"/><circle cx="1219.5" cy="507.9" r="4.17"/><circle cx="1224.4" cy="514.1" r="4.17"/><circle cx="1228.5" cy="519.0" r="4.17"/><circle cx="1240.7" cy="516.6" r="4.17"/><circle cx="1204.3" cy="520.0" r="4.17"/><circle cx="1213.8" cy="549.0" r="4.17"/><circle cx="1215.5" cy="557.6" r="4.17"/><circle cx="1223.7" cy="560.9" r="4.17"/><circle cx="1222.9" cy="562.2" r="4.17"/><circle cx="1230.4" cy="565.9" r="4.17"/><circle cx="1236.0" cy="571.5" r="4.17"/><circle cx="1238.4" cy="577.0" r="4.17"/><circle cx="1252.4" cy="585.9" r="4.17"/><circle cx="1257.0" cy="591.1" r="4.17"/><circle cx="1260.5" cy="593.4" r="4.17"/><circle cx="1271.0" cy="599.8" r="4.17"/><circle cx="1276.1" cy="606.2" r="4.17"/><circle cx="1281.5" cy="611.2" r="4.17"/><circle cx="1287.9" cy="617.5" r="4.17"/><circle cx="1292.6" cy="619.8" r="4.17"/><circle cx="1301.0" cy="627.2" r="4.17"/><circle cx="1307.7" cy="628.8" r="4.17"/><circle cx="1312.7" cy="632.0" r="4.17"/><circle cx="1322.9" cy="636.0" r="4.17"/><circle cx="1321.0" cy="635.4" r="4.17"/><circle cx="1329.2" cy="640.0" r="4.17"/><circle cx="1332.3" cy="643.0" r="4.17"/><circle cx="1225.4" cy="546.8" r="4.17"/><circle cx="1230.2" cy="544.0" r="4.17"/><circle cx="1234.4" cy="555.5" r="4.17"/><circle cx="1241.4" cy="560.9" r="4.17"/><circle cx="1245.6" cy="564.3" r="4.17"/><circle cx="1250.5" cy="566.5" r="4.17"/><circle cx="1256.4" cy="569.9" r="4.17"/><circle cx="1260.5" cy="578.5" r="4.17"/><circle cx="1270.3" cy="583.6" r="4.17"/><circle cx="1275.6" cy="592.0" r="4.17"/><circle cx="1278.2" cy="597.2" r="4.17"/><circle cx="1287.6" cy="598.3" r="4.17"/><circle cx="1292.6" cy="599.5" r="4.17"/><circle cx="1292.2" cy="604.2" r="4.17"/><circle cx="1293.5" cy="605.3" r="4.17"/><circle cx="1301.7" cy="606.2" r="4.17"/><circle cx="1303.8" cy="611.2" r="4.17"/><circle cx="1309.3" cy="623.6" r="4.17"/><circle cx="1315.7" cy="624.9" r="4.17"/><circle cx="1320.0" cy="630.9" r="4.17"/><circle cx="1252.1" cy="544.4" r="4.17"/><circle cx="1255.4" cy="548.4" r="4.17"/><circle cx="1260.6" cy="556.4" r="4.17"/><circle cx="1266.0" cy="564.8" r="4.17"/><circle cx="1266.3" cy="565.7" r="4.17"/><circle cx="1269.1" cy="567.7" r="4.17"/><circle cx="1279.1" cy="571.5" r="4.17"/><circle cx="1282.2" cy="576.9" r="4.17"/><circle cx="1280.9" cy="577.5" r="4.17"/><circle cx="1290.9" cy="580.5" r="4.17"/><circle cx="1294.4" cy="588.8" r="4.17"/><circle cx="1299.3" cy="594.1" r="4.17"/><circle cx="1305.6" cy="595.9" r="4.17"/><circle cx="1310.3" cy="603.8" r="4.17"/><circle cx="1312.7" cy="610.8" r="4.17"/><circle cx="1317.6" cy="619.7" r="4.17"/><circle cx="1321.9" cy="620.3" r="4.17"/><circle cx="1323.4" cy="626.0" r="4.17"/><circle cx="1331.2" cy="631.7" r="4.17"/><circle cx="1283.4" cy="547.4" r="4.17"/><circle cx="1283.2" cy="551.3" r="4.17"/><circle cx="1289.7" cy="558.1" r="4.17"/><circle cx="1298.4" cy="563.0" r="4.17"/><circle cx="1300.1" cy="572.4" r="4.17"/><circle cx="1307.3" cy="575.2" r="4.17"/><circle cx="1307.6" cy="576.8" r="4.17"/><circle cx="1309.1" cy="582.5" r="4.17"/><circle cx="1318.0" cy="592.3" r="4.17"/><circle cx="1321.8" cy="598.5" r="4.17"/><circle cx="1320.0" cy="599.3" r="4.17"/><circle cx="1323.2" cy="602.8" r="4.17"/><circle cx="1327.4" cy="609.8" r="4.17"/><circle cx="1327.2" cy="613.8" r="4.17"/><circle cx="1332.5" cy="621.8" r="4.17"/><circle cx="1335.5" cy="624.0" r="4.17"/><circle cx="1336.5" cy="627.2" r="4.17"/><circle cx="1338.3" cy="628.5" r="4.17"/><circle cx="1075.0" cy="397.6" r="4.17"/><circle cx="1075.3" cy="400.3" r="4.17"/><circle cx="1075.3" cy="404.4" r="4.17"/><circle cx="1077.7" cy="408.3" r="4.17"/><circle cx="1080.5" cy="411.4" r="4.17"/><circle cx="1082.1" cy="415.7" r="4.17"/><circle cx="1082.9" cy="417.7" r="4.17"/><circle cx="1085.3" cy="421.0" r="4.17"/><circle cx="1085.5" cy="422.0" r="4.17"/><circle cx="1087.3" cy="426.0" r="4.17"/><circle cx="1087.9" cy="427.3" r="4.17"/><circle cx="1090.2" cy="430.2" r="4.17"/><circle cx="1091.9" cy="431.7" r="4.17"/><circle cx="1093.1" cy="435.3" r="4.17"/><circle cx="1096.8" cy="437.9" r="4.17"/><circle cx="1099.7" cy="443.0" r="4.17"/><circle cx="1102.8" cy="443.7" r="4.17"/><circle cx="1106.1" cy="446.9" r="4.17"/><circle cx="1106.8" cy="450.4" r="4.17"/><circle cx="1108.6" cy="452.1" r="4.17"/><circle cx="1111.1" cy="455.8" r="4.17"/><circle cx="1112.8" cy="457.7" r="4.17"/><circle cx="1118.9" cy="459.2" r="4.17"/><circle cx="1120.0" cy="461.0" r="4.17"/></g>
<path clip-path="url(#c2)" d="M844.5 287.0L1338.6 550.4" fill="none" stroke="#008000" stroke-width="4.17" stroke-linecap="round" stroke-linejoin="round" />
<path clip-path="url(#c2)" d="M844.5 676.9L849.4 660.8L854.4 645.3L859.3 630.1L864.3 615.5L869.2 601.3L874.2 587.5L879.1 574.3L884.0 561.4L889.0 549.0L893.9 537.1L898.9 525.6L903.8 514.5L908.8 503.8L913.7 493.6L918.6 483.7L923.6 474.3L928.5 465.3L933.5 456.7L938.4 448.5L943.4 440.6L948.3 433.2L953.2 426.1L958.2 419.4L963.1 413.1L968.1 407.2L973.0 401.6L978.0 396.4L982.9 391.5L987.8 386.9L992.8 382.8L997.7 378.9L1002.7 375.4L1007.6 372.2L1012.6 369.3L1017.5 366.8L1022.4 364.5L1027.4 362.6L1032.3 361.0L1037.3 359.7L1042.2 358.6L1047.2 357.9L1052.1 357.4L1057.0 357.2L1062.0 357.3L1066.9 357.7L1071.9 358.3L1076.8 359.2L1081.8 360.4L1086.7 361.8L1091.7 363.4L1096.6 365.3L1101.5 367.4L1106.5 369.8L1111.4 372.4L1116.4 375.2L1121.3 378.2L1126.3 381.4L1131.2 384.9L1136.1 388.5L1141.1 392.4L1146.0 396.4L1151.0 400.6L1155.9 405.0L1160.9 409.6L1165.8 414.4L1170.7 419.3L1175.7 424.4L1180.6 429.6L1185.6 435.1L1190.5 440.6L1195.5 446.3L1200.4 452.1L1205.3 458.1L1210.3 464.2L1215.2 470.5L1220.2 476.8L1225.1 483.3L1230.1 489.9L1235.0 496.5L1239.9 503.3L1244.9 510.2L1249.8 517.2L1254.8 524.3L1259.7 531.4L1264.7 538.6L1269.6 545.9L1274.5 553.3L1279.5 560.7L1284.4 568.2L1289.4 575.7L1294.3 583.3L1299.3 591.0L1304.2 598.6L1309.1 606.3L1314.1 614.1L1319.0 621.8L1324.0 629.6L1328.9 637.4L1333.9 645.2L1338.8 653.0" fill="none" stroke="#ffa500" stroke-width="4.17" stroke-linecap="round" stroke-linejoin="round" />
<path clip-path="url(#c2)" d="M844.5 643.4L849.4 635.1L854.4 627.0L859.3 619.3L864.3 611.8L869.2 604.6L874.2 597.7L879.1 591.0L884.0 584.6L889.0 578.5L893.9 572.7L898.9 567.1L903.8 561.7L908.8 556.6L913.7 551.7L918.6 547.0L923.6 542.6L928.5 538.4L933.5 534.5L938.4 530.7L943.4 527.1L948.3 523.8L953.2 520.6L958.2 517.7L963.1 514.9L968.1 512.4L973.0 510.0L978.0 507.8L982.9 505.8L987.8 503.9L992.8 502.3L997.7 500.7L1002.7 499.4L1007.6 498.2L1012.6 497.2L1017.5 496.3L1022.4 495.5L1027.4 494.9L1032.3 494.5L1037.3 494.2L1042.2 494.0L1047.2 493.9L1052.1 494.0L1057.0 494.2L1062.0 494.5L1066.9 495.0L1071.9 495.5L1076.8 496.2L1081.8 497.0L1086.7 497.9L1091.7 498.9L1096.6 499.9L1101.5 501.1L1106.5 502.4L1111.4 503.8L1116.4 505.3L1121.3 506.8L1126.3 508.5L1131.2 510.2L1136.1 512.0L1141.1 513.9L1146.0 515.9L1151.0 517.9L1155.9 520.0L1160.9 522.2L1165.8 524.5L1170.7 526.8L1175.7 529.2L1180.6 531.6L1185.6 534.1L1190.5 536.7L1195.5 539.4L1200.4 542.0L1205.3 544.8L1210.3 547.6L1215.2 550.5L1220.2 553.4L1225.1 556.3L1230.1 559.3L1235.0 562.4L1239.9 565.5L1244.9 568.6L1249.8 571.8L1254.8 575.1L1259.7 578.3L1264.7 581.7L1269.6 585.0L1274.5 588.4L1279.5 591.9L1284.4 595.4L1289.4 598.9L1294.3 602.4L1299.3 606.0L1304.2 609.7L1309.1 613.4L1314.1 617.1L1319.0 620.8L1324.0 624.6L1328.9 628.4L1333.9 632.3L1338.8 636.2" fill="none" stroke="#000" stroke-width="4.17" stroke-linecap="round" stroke-linejoin="round" />
<rect x="831.5" y="550.8" width="395.0999999999999" height="144.60000000000002" rx="4.6" fill="#eaeaf2" fill-opacity="0.8" stroke="#cccccc" stroke-opacity="0.8" stroke-width="1.39"/>
<circle cx="863.5" cy="569.6" r="4.17" fill="#808080" fill-opacity="0.5" stroke="#808080" stroke-opacity="0.5" stroke-width="1.39"/>
<path d="M841.1 603.9H885.3" stroke="#008000" stroke-width="4.17" stroke-linecap="round" fill="none"/>
<path d="M841.1 637.9H885.3" stroke="#ffa500" stroke-width="4.17" stroke-linecap="round" fill="none"/>
<path d="M841.1 673.1H885.3" stroke="#000" stroke-width="4.17" stroke-linecap="round" fill="none"/>
<text x="904.60" y="576.90" font-size="22.92" text-anchor="start" >input data</text>
<text x="904.60" y="611.50" font-size="22.92" text-anchor="start" >poly degree: 1</text>
<text x="904.60" y="645.40" font-size="22.92" text-anchor="start" >poly degree: 3</text>
<text x="904.60" y="680.00" font-size="22.92" text-anchor="start" >from pseudo-global ratio fit</text>
<rect x="447.4" y="66.5" width="200.0" height="41.0" rx="4.6" fill="#eaeaf2" fill-opacity="0.8" stroke="#cccccc" stroke-opacity="0.8" stroke-width="1.39"/>
<circle cx="479.5" cy="85.0" r="4.17" fill="#808080" fill-opacity="0.5" stroke="#808080" stroke-opacity="0.5" stroke-width="1.39"/>
<text x="520.10" y="92.80" font-size="22.92" text-anchor="start" >input data</text>
<g clip-path="url(#c3)" fill="#4c72b0" fill-opacity="1"><circle cx="2031.4" cy="209.2" r="4.86"/><circle cx="2026.3" cy="214.1" r="4.86"/><circle cx="2021.3" cy="181.3" r="4.86"/><circle cx="2018.3" cy="158.4" r="4.86"/><circle cx="2014.2" cy="135.3" r="4.86"/><circle cx="2009.3" cy="97.3" r="4.86"/><circle cx="2004.5" cy="86.1" r="4.86"/><circle cx="1999.3" cy="88.0" r="4.86"/><circle cx="1995.5" cy="78.8" r="4.86"/><circle cx="1990.6" cy="73.1" r="4.86"/><circle cx="1986.5" cy="69.3" r="4.86"/><circle cx="1981.5" cy="68.5" r="4.86"/><circle cx="1974.2" cy="70.8" r="4.86"/><circle cx="1970.6" cy="72.9" r="4.86"/><circle cx="1965.1" cy="75.2" r="4.86"/><circle cx="1960.0" cy="77.4" r="4.86"/><circle cx="1955.1" cy="79.7" r="4.86"/><circle cx="1952.3" cy="82.2" r="4.86"/><circle cx="1948.3" cy="84.0" r="4.86"/><circle cx="1940.9" cy="85.3" r="4.86"/><circle cx="1940.3" cy="85.3" r="4.86"/><circle cx="1932.9" cy="84.9" r="4.86"/><circle cx="1930.0" cy="84.0" r="4.86"/><circle cx="1922.9" cy="84.7" r="4.86"/><circle cx="1918.5" cy="87.3" r="4.86"/><circle cx="1915.3" cy="89.0" r="4.86"/><circle cx="1911.5" cy="90.5" r="4.86"/><circle cx="1907.7" cy="91.3" r="4.86"/><circle cx="1905.8" cy="90.9" r="4.86"/><circle cx="1898.9" cy="92.2" r="4.86"/><circle cx="1893.7" cy="97.5" r="4.86"/><circle cx="1888.2" cy="102.4" r="4.86"/><circle cx="1882.5" cy="107.4" r="4.86"/><circle cx="1878.4" cy="113.6" r="4.86"/><circle cx="1871.7" cy="116.5" r="4.86"/><circle cx="1865.1" cy="120.1" r="4.86"/><circle cx="1858.7" cy="124.0" r="4.86"/><circle cx="1855.4" cy="127.5" r="4.86"/><circle cx="1851.4" cy="131.8" r="4.86"/><circle cx="1846.7" cy="137.6" r="4.86"/><circle cx="1842.7" cy="144.0" r="4.86"/><circle cx="1838.0" cy="149.9" r="4.86"/><circle cx="1835.1" cy="155.2" r="4.86"/><circle cx="1833.2" cy="157.3" r="4.86"/><circle cx="1830.0" cy="159.3" r="4.86"/><circle cx="1823.7" cy="161.4" r="4.86"/><circle cx="1819.4" cy="165.2" r="4.86"/><circle cx="1815.7" cy="170.3" r="4.86"/><circle cx="1811.6" cy="176.6" r="4.86"/><circle cx="1808.7" cy="181.0" r="4.86"/><circle cx="1806.2" cy="184.0" r="4.86"/><circle cx="1802.9" cy="186.8" r="4.86"/><circle cx="1798.9" cy="189.2" r="4.86"/><circle cx="1793.7" cy="191.3" r="4.86"/><circle cx="1790.4" cy="194.0" r="4.86"/><circle cx="1788.1" cy="196.6" r="4.86"/><circle cx="1784.4" cy="199.2" r="4.86"/><circle cx="1780.2" cy="201.9" r="4.86"/><circle cx="1777.5" cy="204.8" r="4.86"/><circle cx="1774.3" cy="208.3" r="4.86"/><circle cx="1769.8" cy="214.3" r="4.86"/><circle cx="1766.6" cy="220.4" r="4.86"/><circle cx="1763.9" cy="226.0" r="4.86"/><circle cx="1761.7" cy="230.4" r="4.86"/><circle cx="1758.0" cy="234.8" r="4.86"/><circle cx="1753.6" cy="240.8" r="4.86"/><circle cx="1750.0" cy="247.4" r="4.86"/><circle cx="1747.0" cy="254.1" r="4.86"/><circle cx="1744.7" cy="258.5" r="4.86"/><circle cx="1742.0" cy="262.9" r="4.86"/><circle cx="1739.0" cy="267.4" r="4.86"/><circle cx="1736.2" cy="272.8" r="4.86"/><circle cx="1733.6" cy="277.4" r="4.86"/><circle cx="1730.5" cy="281.6" r="4.86"/><circle cx="1728.2" cy="285.2" r="4.86"/><circle cx="1726.0" cy="288.9" r="4.86"/><circle cx="1723.9" cy="292.6" r="4.86"/><circle cx="1721.8" cy="296.4" r="4.86"/><circle cx="1719.6" cy="300.4" r="4.86"/><circle cx="1717.7" cy="303.4" r="4.86"/><circle cx="1715.8" cy="306.4" r="4.86"/><circle cx="1713.7" cy="309.3" r="4.86"/><circle cx="1711.6" cy="312.2" r="4.86"/><circle cx="1710.1" cy="313.9" r="4.86"/><circle cx="1709.0" cy="315.1" r="4.86"/><circle cx="1707.6" cy="316.5" r="4.86"/><circle cx="1706.0" cy="318.3" r="4.86"/><circle cx="1704.7" cy="320.0" r="4.86"/><circle cx="1703.4" cy="321.8" r="4.86"/><circle cx="1702.0" cy="323.5" r="4.86"/><circle cx="1700.8" cy="325.1" r="4.86"/><circle cx="1699.2" cy="327.0" r="4.86"/></g>
<path clip-path="url(#c3)" d="M1546.5 407.3L1981.5 68.5L2063.8 268.5" fill="none" stroke="#000" stroke-width="2.08" stroke-linecap="square" stroke-linejoin="round"/>
<g clip-path="url(#c4)" fill="#4c72b0" fill-opacity="1"><circle cx="2245.2" cy="209.2" r="4.86"/><circle cx="2246.9" cy="214.1" r="4.86"/><circle cx="2248.7" cy="181.3" r="4.86"/><circle cx="2250.5" cy="158.4" r="4.86"/><circle cx="2252.2" cy="135.3" r="4.86"/><circle cx="2254.0" cy="97.3" r="4.86"/><circle cx="2255.7" cy="86.1" r="4.86"/><circle cx="2257.5" cy="88.0" r="4.86"/><circle cx="2259.2" cy="78.8" r="4.86"/><circle cx="2261.0" cy="73.1" r="4.86"/><circle cx="2262.7" cy="69.3" r="4.86"/><circle cx="2264.5" cy="68.5" r="4.86"/><circle cx="2266.3" cy="70.8" r="4.86"/><circle cx="2268.0" cy="72.9" r="4.86"/><circle cx="2269.8" cy="75.2" r="4.86"/><circle cx="2271.5" cy="77.4" r="4.86"/><circle cx="2273.3" cy="79.8" r="4.86"/><circle cx="2275.0" cy="82.2" r="4.86"/><circle cx="2276.8" cy="84.0" r="4.86"/><circle cx="2278.5" cy="85.3" r="4.86"/><circle cx="2280.3" cy="85.3" r="4.86"/><circle cx="2282.1" cy="84.9" r="4.86"/><circle cx="2283.8" cy="84.0" r="4.86"/><circle cx="2285.6" cy="85.1" r="4.86"/><circle cx="2287.3" cy="87.3" r="4.86"/><circle cx="2289.1" cy="89.0" r="4.86"/><circle cx="2290.8" cy="90.5" r="4.86"/><circle cx="2292.6" cy="91.6" r="4.86"/><circle cx="2294.3" cy="94.6" r="4.86"/><circle cx="2296.1" cy="98.7" r="4.86"/><circle cx="2297.9" cy="102.7" r="4.86"/><circle cx="2299.6" cy="107.5" r="4.86"/><circle cx="2301.4" cy="114.1" r="4.86"/><circle cx="2303.1" cy="115.8" r="4.86"/><circle cx="2304.9" cy="117.7" r="4.86"/><circle cx="2306.6" cy="120.6" r="4.86"/><circle cx="2308.4" cy="124.1" r="4.86"/><circle cx="2310.1" cy="127.6" r="4.86"/><circle cx="2311.9" cy="131.8" r="4.86"/><circle cx="2313.7" cy="138.8" r="4.86"/><circle cx="2315.4" cy="145.8" r="4.86"/><circle cx="2317.2" cy="150.7" r="4.86"/><circle cx="2318.9" cy="155.3" r="4.86"/><circle cx="2320.7" cy="157.3" r="4.86"/><circle cx="2322.4" cy="159.3" r="4.86"/><circle cx="2324.2" cy="161.4" r="4.86"/><circle cx="2325.9" cy="165.3" r="4.86"/><circle cx="2327.7" cy="170.4" r="4.86"/><circle cx="2329.5" cy="176.7" r="4.86"/><circle cx="2331.2" cy="181.0" r="4.86"/><circle cx="2333.0" cy="184.0" r="4.86"/><circle cx="2334.7" cy="186.8" r="4.86"/><circle cx="2336.5" cy="189.2" r="4.86"/><circle cx="2338.2" cy="191.3" r="4.86"/><circle cx="2340.0" cy="194.0" r="4.86"/><circle cx="2341.7" cy="196.6" r="4.86"/><circle cx="2343.5" cy="199.2" r="4.86"/><circle cx="2345.3" cy="201.9" r="4.86"/><circle cx="2347.0" cy="204.8" r="4.86"/><circle cx="2348.8" cy="208.4" r="4.86"/><circle cx="2350.5" cy="214.5" r="4.86"/><circle cx="2352.3" cy="220.4" r="4.86"/><circle cx="2354.0" cy="226.1" r="4.86"/><circle cx="2355.8" cy="230.5" r="4.86"/><circle cx="2357.5" cy="234.9" r="4.86"/><circle cx="2359.3" cy="240.8" r="4.86"/><circle cx="2361.1" cy="248.0" r="4.86"/><circle cx="2362.8" cy="254.2" r="4.86"/><circle cx="2364.6" cy="258.5" r="4.86"/><circle cx="2366.3" cy="262.9" r="4.86"/><circle cx="2368.1" cy="267.4" r="4.86"/><circle cx="2369.8" cy="272.9" r="4.86"/><circle cx="2371.6" cy="277.5" r="4.86"/><circle cx="2373.3" cy="281.6" r="4.86"/><circle cx="2375.1" cy="285.3" r="4.86"/><circle cx="2376.9" cy="288.9" r="4.86"/><circle cx="2378.6" cy="292.6" r="4.86"/><circle cx="2380.4" cy="296.5" r="4.86"/><circle cx="2382.1" cy="300.4" r="4.86"/><circle cx="2383.9" cy="303.5" r="4.86"/><circle cx="2385.6" cy="306.4" r="4.86"/><circle cx="2387.4" cy="309.3" r="4.86"/><circle cx="2389.1" cy="312.3" r="4.86"/><circle cx="2390.9" cy="314.0" r="4.86"/><circle cx="2392.7" cy="315.1" r="4.86"/><circle cx="2394.4" cy="316.5" r="4.86"/><circle cx="2396.2" cy="318.3" r="4.86"/><circle cx="2397.9" cy="320.0" r="4.86"/><circle cx="2399.7" cy="321.8" r="4.86"/><circle cx="2401.4" cy="323.6" r="4.86"/><circle cx="2403.2" cy="325.1" r="4.86"/><circle cx="2404.9" cy="326.7" r="4.86"/></g>
<path clip-path="url(#c4)" d="M2229.4 260.0L2264.5 68.5L2510.0 524.2L2772.5 524.2" fill="none" stroke="#000" stroke-width="2.08" stroke-linecap="square" stroke-linejoin="round"/>
<text x="139.50" y="736.70" font-size="22.92" text-anchor="middle" >0</text>
<text x="256.77" y="736.70" font-size="22.92" text-anchor="middle" >200</text>
<text x="374.04" y="736.70" font-size="22.92" text-anchor="middle" >400</text>
<text x="491.31" y="736.70" font-size="22.92" text-anchor="middle" >600</text>
<text x="608.58" y="736.70" font-size="22.92" text-anchor="middle" >800</text>
<text x="101.40" y="685.80" font-size="22.92" text-anchor="end" >0</text>
<text x="101.40" y="580.18" font-size="22.92" text-anchor="end" >50</text>
<text x="101.40" y="474.56" font-size="22.92" text-anchor="end" >100</text>
<text x="101.40" y="368.94" font-size="22.92" text-anchor="end" >150</text>
<text x="101.40" y="263.32" font-size="22.92" text-anchor="end" >200</text>
<text x="101.40" y="157.70" font-size="22.92" text-anchor="end" >250</text>
<text x="844.50" y="736.70" font-size="22.92" text-anchor="middle" >0.0</text>
<text x="943.36" y="736.70" font-size="22.92" text-anchor="middle" >0.2</text>
<text x="1042.22" y="736.70" font-size="22.92" text-anchor="middle" >0.4</text>
<text x="1141.08" y="736.70" font-size="22.92" text-anchor="middle" >0.6</text>
<text x="1239.94" y="736.70" font-size="22.92" text-anchor="middle" >0.8</text>
<text x="1338.80" y="736.70" font-size="22.92" text-anchor="middle" >1.0</text>
<text x="805.40" y="651.90" font-size="22.92" text-anchor="end" >0.00</text>
<text x="805.40" y="564.74" font-size="22.92" text-anchor="end" >0.05</text>
<text x="805.40" y="477.57" font-size="22.92" text-anchor="end" >0.10</text>
<text x="805.40" y="390.40" font-size="22.92" text-anchor="end" >0.15</text>
<text x="805.40" y="303.24" font-size="22.92" text-anchor="end" >0.20</text>
<text x="805.40" y="216.08" font-size="22.92" text-anchor="end" >0.25</text>
<text x="805.40" y="128.91" font-size="22.92" text-anchor="end" >0.30</text>
<text x="1546.50" y="736.70" font-size="22.92" text-anchor="middle" >0.0</text>
<text x="1633.50" y="736.70" font-size="22.92" text-anchor="middle" >0.2</text>
<text x="1720.50" y="736.70" font-size="22.92" text-anchor="middle" >0.4</text>
<text x="1807.50" y="736.70" font-size="22.92" text-anchor="middle" >0.6</text>
<text x="1894.50" y="736.70" font-size="22.92" text-anchor="middle" >0.8</text>
<text x="1981.50" y="736.70" font-size="22.92" text-anchor="middle" >1.0</text>
<text x="2068.50" y="736.70" font-size="22.92" text-anchor="middle" >1.2</text>
<text x="1510.40" y="715.30" font-size="22.92" text-anchor="end" >−0.4</text>
<text x="1510.40" y="624.10" font-size="22.92" text-anchor="end" >−0.2</text>
<text x="1510.40" y="532.90" font-size="22.92" text-anchor="end" >0.0</text>
<text x="1510.40" y="441.70" font-size="22.92" text-anchor="end" >0.2</text>
<text x="1510.40" y="350.50" font-size="22.92" text-anchor="end" >0.4</text>
<text x="1510.40" y="259.30" font-size="22.92" text-anchor="end" >0.6</text>
<text x="1510.40" y="168.10" font-size="22.92" text-anchor="end" >0.8</text>
<text x="1510.40" y="76.90" font-size="22.92" text-anchor="end" >1.0</text>
<text x="2264.50" y="736.70" font-size="22.92" text-anchor="middle" >0</text>
<text x="2352.28" y="736.70" font-size="22.92" text-anchor="middle" >50</text>
<text x="2440.06" y="736.70" font-size="22.92" text-anchor="middle" >100</text>
<text x="2527.84" y="736.70" font-size="22.92" text-anchor="middle" >150</text>
<text x="2615.62" y="736.70" font-size="22.92" text-anchor="middle" >200</text>
<text x="2703.40" y="736.70" font-size="22.92" text-anchor="middle" >250</text>
<text x="2215.40" y="715.30" font-size="22.92" text-anchor="end" >−0.4</text>
<text x="2215.40" y="624.10" font-size="22.92" text-anchor="end" >−0.2</text>
<text x="2215.40" y="532.90" font-size="22.92" text-anchor="end" >0.0</text>
<text x="2215.40" y="441.70" font-size="22.92" text-anchor="end" >0.2</text>
<text x="2215.40" y="350.50" font-size="22.92" text-anchor="end" >0.4</text>
<text x="2215.40" y="259.30" font-size="22.92" text-anchor="end" >0.6</text>
<text x="2215.40" y="168.10" font-size="22.92" text-anchor="end" >0.8</text>
<text x="2215.40" y="76.90" font-size="22.92" text-anchor="end" >1.0</text>
<text x="386.00" y="45.90" font-size="25.0" text-anchor="middle" >regional mass std. (RGI=15)</text>
<text x="1091.00" y="45.90" font-size="25.0" text-anchor="middle" >regional mass ratio std. (RGI=15) rel. to 2009</text>
<text x="386.10" y="767.00" font-size="25.0" text-anchor="middle" >regional_glac_mass</text>
<text x="1091.00" y="767.00" font-size="25.0" text-anchor="middle" >rel_regional_glac_mass_2009</text>
<text x="1796.00" y="767.00" font-size="25.0" text-anchor="middle" >regional mean mass ratio relative to 2020</text>
<text x="2501.00" y="767.00" font-size="25.0" text-anchor="middle" >time in years relative to 2020</text>
<text transform="translate(45.90,382.60) rotate(-90)" font-size="25.0" text-anchor="middle">sigma_regional_glac_mass</text>
<text transform="translate(744.00,382.80) rotate(-90)" font-size="25.0" text-anchor="middle">sigma_rel_regional_glac_mass_2009</text>
<text transform="translate(1407.90,381.00) rotate(-90)" font-size="25.0" text-anchor="middle">correlation coefficient:</text>
<text transform="translate(1437.90,380.50) rotate(-90)" font-size="25.0" text-anchor="middle"><tspan font-style="italic">ρ</tspan>(<tspan font-style="italic">m</tspan><tspan font-size="17.5" dy="4.2">2020</tspan><tspan dy="-4.2">,</tspan><tspan font-style="italic" dx="4.5">m</tspan><tspan font-size="17.5" dy="4.2" font-style="italic">yr</tspan><tspan dy="-4.2">)</tspan></text>
<text transform="translate(2112.90,381.00) rotate(-90)" font-size="25.0" text-anchor="middle">correlation coefficient:</text>
<text transform="translate(2142.90,380.50) rotate(-90)" font-size="25.0" text-anchor="middle"><tspan font-style="italic">ρ</tspan>(<tspan font-style="italic">m</tspan><tspan font-size="17.5" dy="4.2">2020</tspan><tspan dy="-4.2">,</tspan><tspan font-style="italic" dx="4.5">m</tspan><tspan font-size="17.5" dy="4.2" font-style="italic">yr</tspan><tspan dy="-4.2">)</tspan></text>
</svg>
</body></html>
